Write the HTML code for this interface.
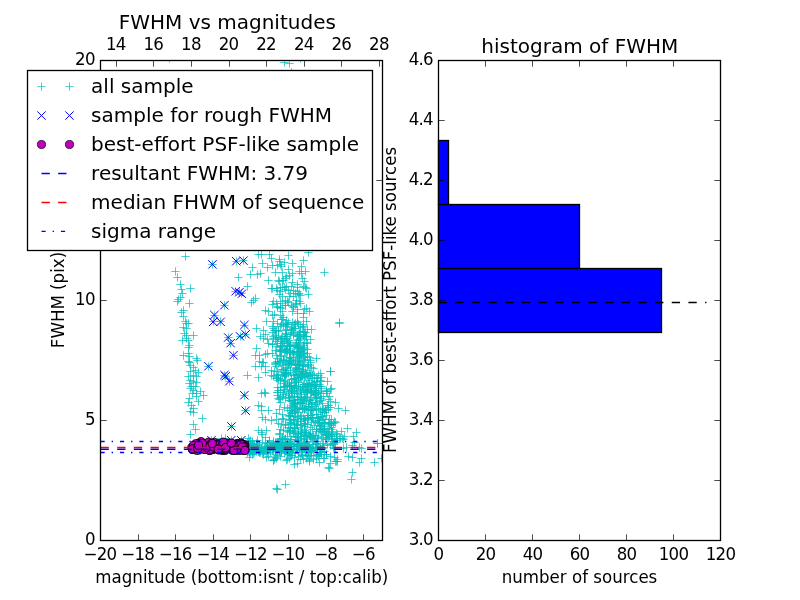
<!DOCTYPE html>
<html><head><meta charset="utf-8"><title>FWHM vs magnitudes</title>
<style>html,body{margin:0;padding:0;background:#fff;overflow:hidden}svg{display:block}</style></head>
<body>
<svg width="800" height="600" viewBox="0 0 800 600">
<rect width="800" height="600" fill="#fff"/>
<defs><clipPath id="cl"><rect x="100.5" y="60.5" width="282.0" height="480.0"/></clipPath></defs>
<g clip-path="url(#cl)">
<path d="M208.3 264.5h8.34M212.5 260.3v8.34M232.3 261.5h8.34M236.5 257.3v8.34M239.3 260.5h8.34M243.5 256.3v8.34M231.3 291.5h8.34M235.5 287.3v8.34M235.3 292.5h8.34M239.5 288.3v8.34M237.3 293.5h8.34M241.5 289.3v8.34M220.3 305.5h8.34M224.5 301.3v8.34M210.3 315.5h8.34M214.5 311.3v8.34M209.3 321.5h8.34M213.5 317.3v8.34M216.3 321.5h8.34M220.5 317.3v8.34M240.3 325.5h8.34M244.5 321.3v8.34M241.3 334.5h8.34M245.5 330.3v8.34M236.3 336.5h8.34M240.5 332.3v8.34M224.3 337.5h8.34M228.5 333.3v8.34M226.3 343.5h8.34M230.5 339.3v8.34M229.3 355.5h8.34M233.5 351.3v8.34M204.3 366.5h8.34M208.5 362.3v8.34M220.3 375.5h8.34M224.5 371.3v8.34M221.3 376.5h8.34M225.5 372.3v8.34M225.3 381.5h8.34M229.5 377.3v8.34M240.3 395.5h8.34M244.5 391.3v8.34M241.3 410.5h8.34M245.5 406.3v8.34M227.3 426.5h8.34M231.5 422.3v8.34M207.3 440.5h8.34M211.5 436.3v8.34M227.3 440.5h8.34M231.5 436.3v8.34M237.3 440.5h8.34M241.5 436.3v8.34M181.3 256.5h8.34M185.5 252.3v8.34M171.3 271.5h8.34M175.5 267.3v8.34M173.3 277.5h8.34M177.5 273.3v8.34M176.3 284.5h8.34M180.5 280.3v8.34M177.3 289.5h8.34M181.5 285.3v8.34M186.3 288.5h8.34M190.5 284.3v8.34M178.3 293.5h8.34M182.5 289.3v8.34M176.3 297.5h8.34M180.5 293.3v8.34M174.3 299.5h8.34M178.5 295.3v8.34M173.3 301.5h8.34M177.5 297.3v8.34M185.3 303.5h8.34M189.5 299.3v8.34M179.3 310.5h8.34M183.5 306.3v8.34M177.3 312.5h8.34M181.5 308.3v8.34M179.3 316.5h8.34M183.5 312.3v8.34M181.3 321.5h8.34M185.5 317.3v8.34M182.3 323.5h8.34M186.5 319.3v8.34M184.3 323.5h8.34M188.5 319.3v8.34M234.3 277.5h8.34M238.5 273.3v8.34M248.3 267.5h8.34M252.5 263.3v8.34M246.3 274.5h8.34M250.5 270.3v8.34M253.3 274.5h8.34M257.5 270.3v8.34M243.3 286.5h8.34M247.5 282.3v8.34M251.3 298.5h8.34M255.5 294.3v8.34M249.3 300.5h8.34M253.5 296.3v8.34M247.3 302.5h8.34M251.5 298.3v8.34M254.3 254.5h8.34M258.5 250.3v8.34M258.3 263.5h8.34M262.5 259.3v8.34M265.3 254.5h8.34M269.5 250.3v8.34M267.3 258.5h8.34M271.5 254.3v8.34M275.3 259.5h8.34M279.5 255.3v8.34M276.3 264.5h8.34M280.5 260.3v8.34M277.3 266.5h8.34M281.5 262.3v8.34M273.3 265.5h8.34M277.5 261.3v8.34M280.3 262.5h8.34M284.5 258.3v8.34M284.3 255.5h8.34M288.5 251.3v8.34M288.3 263.5h8.34M292.5 259.3v8.34M299.3 260.5h8.34M303.5 256.3v8.34M297.3 266.5h8.34M301.5 262.3v8.34M304.3 252.5h8.34M308.5 248.3v8.34M271.3 272.5h8.34M275.5 268.3v8.34M278.3 272.5h8.34M282.5 268.3v8.34M282.3 276.5h8.34M286.5 272.3v8.34M285.3 275.5h8.34M289.5 271.3v8.34M264.3 280.5h8.34M268.5 276.3v8.34M298.3 278.5h8.34M302.5 274.3v8.34M275.3 281.5h8.34M279.5 277.3v8.34M279.3 280.5h8.34M283.5 276.3v8.34M267.3 288.5h8.34M271.5 284.3v8.34M268.3 288.5h8.34M272.5 284.3v8.34M273.3 290.5h8.34M277.5 286.3v8.34M276.3 291.5h8.34M280.5 287.3v8.34M278.3 287.5h8.34M282.5 283.3v8.34M287.3 286.5h8.34M291.5 282.3v8.34M289.3 290.5h8.34M293.5 286.3v8.34M286.3 293.5h8.34M290.5 289.3v8.34M291.3 293.5h8.34M295.5 289.3v8.34M293.3 291.5h8.34M297.5 287.3v8.34M299.3 286.5h8.34M303.5 282.3v8.34M302.3 288.5h8.34M306.5 284.3v8.34M304.3 294.5h8.34M308.5 290.3v8.34M289.3 296.5h8.34M293.5 292.3v8.34M269.3 301.5h8.34M273.5 297.3v8.34M272.3 303.5h8.34M276.5 299.3v8.34M276.3 301.5h8.34M280.5 297.3v8.34M278.3 303.5h8.34M282.5 299.3v8.34M281.3 300.5h8.34M285.5 296.3v8.34M284.3 302.5h8.34M288.5 298.3v8.34M273.3 306.5h8.34M277.5 302.3v8.34M276.3 308.5h8.34M280.5 304.3v8.34M278.3 311.5h8.34M282.5 307.3v8.34M287.3 305.5h8.34M291.5 301.3v8.34M289.3 307.5h8.34M293.5 303.3v8.34M292.3 303.5h8.34M296.5 299.3v8.34M296.3 303.5h8.34M300.5 299.3v8.34M293.3 309.5h8.34M297.5 305.3v8.34M288.3 311.5h8.34M292.5 307.3v8.34M261.3 310.5h8.34M265.5 306.3v8.34M264.3 311.5h8.34M268.5 307.3v8.34M268.3 315.5h8.34M272.5 311.3v8.34M276.3 315.5h8.34M280.5 311.3v8.34M279.3 317.5h8.34M283.5 313.3v8.34M282.3 320.5h8.34M286.5 316.3v8.34M305.3 311.5h8.34M309.5 307.3v8.34M299.3 317.5h8.34M303.5 313.3v8.34M302.3 321.5h8.34M306.5 317.3v8.34M293.3 321.5h8.34M297.5 317.3v8.34M291.3 323.5h8.34M295.5 319.3v8.34M262.3 321.5h8.34M266.5 317.3v8.34M282.3 323.5h8.34M286.5 319.3v8.34M320.3 272.5h8.34M324.5 268.3v8.34M335.3 322.5h8.34M339.5 318.3v8.34M256.3 273.5h8.34M260.5 269.3v8.34M257.3 254.5h8.34M261.5 250.3v8.34M179.3 327.5h8.34M183.5 323.3v8.34M182.3 328.5h8.34M186.5 324.3v8.34M180.3 333.5h8.34M184.5 329.3v8.34M182.3 335.5h8.34M186.5 331.3v8.34M189.3 335.5h8.34M193.5 331.3v8.34M178.3 340.5h8.34M182.5 336.3v8.34M182.3 338.5h8.34M186.5 334.3v8.34M184.3 340.5h8.34M188.5 336.3v8.34M185.3 345.5h8.34M189.5 341.3v8.34M184.3 347.5h8.34M188.5 343.3v8.34M179.3 355.5h8.34M183.5 351.3v8.34M184.3 353.5h8.34M188.5 349.3v8.34M185.3 356.5h8.34M189.5 352.3v8.34M192.3 358.5h8.34M196.5 354.3v8.34M193.3 360.5h8.34M197.5 356.3v8.34M184.3 361.5h8.34M188.5 357.3v8.34M185.3 362.5h8.34M189.5 358.3v8.34M186.3 365.5h8.34M190.5 361.3v8.34M189.3 367.5h8.34M193.5 363.3v8.34M191.3 370.5h8.34M195.5 366.3v8.34M186.3 371.5h8.34M190.5 367.3v8.34M194.3 372.5h8.34M198.5 368.3v8.34M184.3 376.5h8.34M188.5 372.3v8.34M189.3 375.5h8.34M193.5 371.3v8.34M192.3 376.5h8.34M196.5 372.3v8.34M186.3 380.5h8.34M190.5 376.3v8.34M189.3 381.5h8.34M193.5 377.3v8.34M192.3 382.5h8.34M196.5 378.3v8.34M185.3 383.5h8.34M189.5 379.3v8.34M187.3 386.5h8.34M191.5 382.3v8.34M191.3 386.5h8.34M195.5 382.3v8.34M186.3 388.5h8.34M190.5 384.3v8.34M189.3 390.5h8.34M193.5 386.3v8.34M196.3 391.5h8.34M200.5 387.3v8.34M188.3 393.5h8.34M192.5 389.3v8.34M192.3 393.5h8.34M196.5 389.3v8.34M199.3 395.5h8.34M203.5 391.3v8.34M192.3 396.5h8.34M196.5 392.3v8.34M185.3 398.5h8.34M189.5 394.3v8.34M252.3 328.5h8.34M256.5 324.3v8.34M252.3 348.5h8.34M256.5 344.3v8.34M251.3 355.5h8.34M255.5 351.3v8.34M251.3 366.5h8.34M255.5 362.3v8.34M243.3 375.5h8.34M247.5 371.3v8.34M254.3 377.5h8.34M258.5 373.3v8.34M255.3 361.5h8.34M259.5 357.3v8.34M184.3 402.5h8.34M188.5 398.3v8.34M187.3 405.5h8.34M191.5 401.3v8.34M189.3 408.5h8.34M193.5 404.3v8.34M186.3 411.5h8.34M190.5 407.3v8.34M189.3 412.5h8.34M193.5 408.3v8.34M194.3 401.5h8.34M198.5 397.3v8.34M198.3 418.5h8.34M202.5 414.3v8.34M189.3 424.5h8.34M193.5 420.3v8.34M191.3 429.5h8.34M195.5 425.3v8.34M186.3 434.5h8.34M190.5 430.3v8.34M254.3 405.5h8.34M258.5 401.3v8.34M254.3 430.5h8.34M258.5 426.3v8.34M217.3 438.5h8.34M221.5 434.3v8.34M221.3 438.5h8.34M225.5 434.3v8.34M244.3 438.5h8.34M248.5 434.3v8.34M272.3 488.5h8.34M276.5 484.3v8.34M273.3 489.5h8.34M277.5 485.3v8.34M281.3 484.5h8.34M285.5 480.3v8.34M348.3 472.5h8.34M352.5 468.3v8.34M347.3 479.5h8.34M351.5 475.3v8.34M370.3 462.5h8.34M374.5 458.3v8.34M377.3 458.5h8.34M381.5 454.3v8.34M355.3 462.5h8.34M359.5 458.3v8.34M357.3 458.5h8.34M361.5 454.3v8.34M325.3 468.5h8.34M329.5 464.3v8.34M324.3 467.5h8.34M328.5 463.3v8.34M290.3 464.5h8.34M294.5 460.3v8.34M293.3 463.5h8.34M297.5 459.3v8.34M285.3 458.5h8.34M289.5 454.3v8.34M273.3 455.5h8.34M277.5 451.3v8.34M305.3 461.5h8.34M309.5 457.3v8.34M315.3 462.5h8.34M319.5 458.3v8.34M331.3 461.5h8.34M335.5 457.3v8.34M326.3 463.5h8.34M330.5 459.3v8.34M344.3 456.5h8.34M348.5 452.3v8.34M348.3 457.5h8.34M352.5 453.3v8.34M373.3 443.5h8.34M377.5 439.3v8.34M342.3 447.5h8.34M346.5 443.3v8.34M350.3 442.5h8.34M354.5 438.3v8.34M335.3 323.5h8.34M339.5 319.3v8.34M326.3 371.5h8.34M330.5 367.3v8.34M327.3 388.5h8.34M331.5 384.3v8.34M331.3 402.5h8.34M335.5 398.3v8.34M334.3 408.5h8.34M338.5 404.3v8.34M341.3 410.5h8.34M345.5 406.3v8.34M343.3 428.5h8.34M347.5 424.3v8.34M352.3 432.5h8.34M356.5 428.3v8.34M349.3 436.5h8.34M353.5 432.3v8.34M373.3 443.5h8.34M377.5 439.3v8.34M326.3 371.5h8.34M330.5 367.3v8.34M323.3 381.5h8.34M327.5 377.3v8.34M326.3 389.5h8.34M330.5 385.3v8.34M280.3 62.5h8.34M284.5 58.3v8.34M285.3 63.5h8.34M289.5 59.3v8.34M165.3 58.5h8.34M169.5 54.3v8.34M296.3 58.5h8.34M300.5 54.3v8.34M287.3 72.5h8.34M291.5 68.3v8.34M298.3 371.5h8.34M302.5 367.3v8.34M296.3 376.5h8.34M300.5 372.3v8.34M280.3 338.5h8.34M284.5 334.3v8.34M327.3 435.5h8.34M331.5 431.3v8.34M298.3 369.5h8.34M302.5 365.3v8.34M272.3 337.5h8.34M276.5 333.3v8.34M301.3 370.5h8.34M305.5 366.3v8.34M290.3 411.5h8.34M294.5 407.3v8.34M312.3 414.5h8.34M316.5 410.3v8.34M316.3 417.5h8.34M320.5 413.3v8.34M313.3 417.5h8.34M317.5 413.3v8.34M288.3 400.5h8.34M292.5 396.3v8.34M310.3 388.5h8.34M314.5 384.3v8.34M283.3 408.5h8.34M287.5 404.3v8.34M281.3 336.5h8.34M285.5 332.3v8.34M327.3 429.5h8.34M331.5 425.3v8.34M314.3 375.5h8.34M318.5 371.3v8.34M280.3 360.5h8.34M284.5 356.3v8.34M283.3 326.5h8.34M287.5 322.3v8.34M285.3 410.5h8.34M289.5 406.3v8.34M287.3 379.5h8.34M291.5 375.3v8.34M283.3 338.5h8.34M287.5 334.3v8.34M279.3 325.5h8.34M283.5 321.3v8.34M320.3 428.5h8.34M324.5 424.3v8.34M280.3 376.5h8.34M284.5 372.3v8.34M303.3 343.5h8.34M307.5 339.3v8.34M311.3 394.5h8.34M315.5 390.3v8.34M332.3 438.5h8.34M336.5 434.3v8.34M289.3 352.5h8.34M293.5 348.3v8.34M289.3 359.5h8.34M293.5 355.3v8.34M314.3 422.5h8.34M318.5 418.3v8.34M274.3 331.5h8.34M278.5 327.3v8.34M311.3 435.5h8.34M315.5 431.3v8.34M279.3 360.5h8.34M283.5 356.3v8.34M297.3 425.5h8.34M301.5 421.3v8.34M325.3 419.5h8.34M329.5 415.3v8.34M305.3 372.5h8.34M309.5 368.3v8.34M305.3 435.5h8.34M309.5 431.3v8.34M313.3 438.5h8.34M317.5 434.3v8.34M289.3 328.5h8.34M293.5 324.3v8.34M300.3 423.5h8.34M304.5 419.3v8.34M306.3 400.5h8.34M310.5 396.3v8.34M291.3 375.5h8.34M295.5 371.3v8.34M307.3 329.5h8.34M311.5 325.3v8.34M286.3 353.5h8.34M290.5 349.3v8.34M314.3 392.5h8.34M318.5 388.3v8.34M284.3 362.5h8.34M288.5 358.3v8.34M307.3 417.5h8.34M311.5 413.3v8.34M283.3 385.5h8.34M287.5 381.3v8.34M304.3 364.5h8.34M308.5 360.3v8.34M277.3 339.5h8.34M281.5 335.3v8.34M285.3 430.5h8.34M289.5 426.3v8.34M308.3 429.5h8.34M312.5 425.3v8.34M282.3 373.5h8.34M286.5 369.3v8.34M282.3 329.5h8.34M286.5 325.3v8.34M335.3 438.5h8.34M339.5 434.3v8.34M281.3 333.5h8.34M285.5 329.3v8.34M301.3 432.5h8.34M305.5 428.3v8.34M294.3 339.5h8.34M298.5 335.3v8.34M295.3 361.5h8.34M299.5 357.3v8.34M292.3 370.5h8.34M296.5 366.3v8.34M303.3 353.5h8.34M307.5 349.3v8.34M289.3 433.5h8.34M293.5 429.3v8.34M292.3 424.5h8.34M296.5 420.3v8.34M301.3 373.5h8.34M305.5 369.3v8.34M290.3 374.5h8.34M294.5 370.3v8.34M274.3 363.5h8.34M278.5 359.3v8.34M300.3 408.5h8.34M304.5 404.3v8.34M286.3 351.5h8.34M290.5 347.3v8.34M340.3 436.5h8.34M344.5 432.3v8.34M296.3 388.5h8.34M300.5 384.3v8.34M281.3 364.5h8.34M285.5 360.3v8.34M294.3 399.5h8.34M298.5 395.3v8.34M291.3 428.5h8.34M295.5 424.3v8.34M295.3 334.5h8.34M299.5 330.3v8.34M287.3 422.5h8.34M291.5 418.3v8.34M311.3 421.5h8.34M315.5 417.3v8.34M287.3 332.5h8.34M291.5 328.3v8.34M296.3 397.5h8.34M300.5 393.3v8.34M296.3 326.5h8.34M300.5 322.3v8.34M287.3 407.5h8.34M291.5 403.3v8.34M291.3 364.5h8.34M295.5 360.3v8.34M287.3 390.5h8.34M291.5 386.3v8.34M318.3 403.5h8.34M322.5 399.3v8.34M304.3 415.5h8.34M308.5 411.3v8.34M308.3 410.5h8.34M312.5 406.3v8.34M290.3 387.5h8.34M294.5 383.3v8.34M275.3 434.5h8.34M279.5 430.3v8.34M285.3 385.5h8.34M289.5 381.3v8.34M317.3 393.5h8.34M321.5 389.3v8.34M303.3 389.5h8.34M307.5 385.3v8.34M316.3 373.5h8.34M320.5 369.3v8.34M281.3 424.5h8.34M285.5 420.3v8.34M292.3 367.5h8.34M296.5 363.3v8.34M294.3 365.5h8.34M298.5 361.3v8.34M322.3 435.5h8.34M326.5 431.3v8.34M333.3 434.5h8.34M337.5 430.3v8.34M311.3 385.5h8.34M315.5 381.3v8.34M294.3 433.5h8.34M298.5 429.3v8.34M306.3 415.5h8.34M310.5 411.3v8.34M285.3 352.5h8.34M289.5 348.3v8.34M321.3 439.5h8.34M325.5 435.3v8.34M284.3 373.5h8.34M288.5 369.3v8.34M320.3 429.5h8.34M324.5 425.3v8.34M296.3 377.5h8.34M300.5 373.3v8.34M294.3 346.5h8.34M298.5 342.3v8.34M281.3 380.5h8.34M285.5 376.3v8.34M272.3 330.5h8.34M276.5 326.3v8.34M327.3 423.5h8.34M331.5 419.3v8.34M285.3 350.5h8.34M289.5 346.3v8.34M304.3 386.5h8.34M308.5 382.3v8.34M294.3 363.5h8.34M298.5 359.3v8.34M313.3 378.5h8.34M317.5 374.3v8.34M287.3 386.5h8.34M291.5 382.3v8.34M310.3 382.5h8.34M314.5 378.3v8.34M291.3 382.5h8.34M295.5 378.3v8.34M292.3 391.5h8.34M296.5 387.3v8.34M287.3 360.5h8.34M291.5 356.3v8.34M287.3 390.5h8.34M291.5 386.3v8.34M302.3 435.5h8.34M306.5 431.3v8.34M276.3 349.5h8.34M280.5 345.3v8.34M287.3 439.5h8.34M291.5 435.3v8.34M317.3 377.5h8.34M321.5 373.3v8.34M308.3 374.5h8.34M312.5 370.3v8.34M312.3 377.5h8.34M316.5 373.3v8.34M320.3 422.5h8.34M324.5 418.3v8.34M302.3 436.5h8.34M306.5 432.3v8.34M272.3 366.5h8.34M276.5 362.3v8.34M296.3 436.5h8.34M300.5 432.3v8.34M289.3 354.5h8.34M293.5 350.3v8.34M298.3 402.5h8.34M302.5 398.3v8.34M285.3 340.5h8.34M289.5 336.3v8.34M301.3 332.5h8.34M305.5 328.3v8.34M312.3 390.5h8.34M316.5 386.3v8.34M291.3 403.5h8.34M295.5 399.3v8.34M283.3 346.5h8.34M287.5 342.3v8.34M287.3 362.5h8.34M291.5 358.3v8.34M293.3 439.5h8.34M297.5 435.3v8.34M279.3 439.5h8.34M283.5 435.3v8.34M294.3 432.5h8.34M298.5 428.3v8.34M317.3 437.5h8.34M321.5 433.3v8.34M285.3 385.5h8.34M289.5 381.3v8.34M295.3 358.5h8.34M299.5 354.3v8.34M326.3 401.5h8.34M330.5 397.3v8.34M300.3 409.5h8.34M304.5 405.3v8.34M290.3 396.5h8.34M294.5 392.3v8.34M299.3 352.5h8.34M303.5 348.3v8.34M305.3 435.5h8.34M309.5 431.3v8.34M290.3 427.5h8.34M294.5 423.3v8.34M289.3 431.5h8.34M293.5 427.3v8.34M282.3 349.5h8.34M286.5 345.3v8.34M294.3 436.5h8.34M298.5 432.3v8.34M297.3 433.5h8.34M301.5 429.3v8.34M293.3 351.5h8.34M297.5 347.3v8.34M302.3 392.5h8.34M306.5 388.3v8.34M279.3 430.5h8.34M283.5 426.3v8.34M290.3 404.5h8.34M294.5 400.3v8.34M324.3 407.5h8.34M328.5 403.3v8.34M280.3 389.5h8.34M284.5 385.3v8.34M299.3 354.5h8.34M303.5 350.3v8.34M302.3 342.5h8.34M306.5 338.3v8.34M294.3 340.5h8.34M298.5 336.3v8.34M307.3 391.5h8.34M311.5 387.3v8.34M330.3 439.5h8.34M334.5 435.3v8.34M288.3 390.5h8.34M292.5 386.3v8.34M296.3 351.5h8.34M300.5 347.3v8.34M303.3 391.5h8.34M307.5 387.3v8.34M328.3 434.5h8.34M332.5 430.3v8.34M292.3 345.5h8.34M296.5 341.3v8.34M316.3 396.5h8.34M320.5 392.3v8.34M305.3 404.5h8.34M309.5 400.3v8.34M295.3 399.5h8.34M299.5 395.3v8.34M286.3 415.5h8.34M290.5 411.3v8.34M336.3 438.5h8.34M340.5 434.3v8.34M308.3 403.5h8.34M312.5 399.3v8.34M270.3 330.5h8.34M274.5 326.3v8.34M301.3 359.5h8.34M305.5 355.3v8.34M290.3 388.5h8.34M294.5 384.3v8.34M284.3 342.5h8.34M288.5 338.3v8.34M271.3 364.5h8.34M275.5 360.3v8.34M289.3 406.5h8.34M293.5 402.3v8.34M283.3 431.5h8.34M287.5 427.3v8.34M299.3 336.5h8.34M303.5 332.3v8.34M307.3 402.5h8.34M311.5 398.3v8.34M299.3 335.5h8.34M303.5 331.3v8.34M291.3 385.5h8.34M295.5 381.3v8.34M322.3 410.5h8.34M326.5 406.3v8.34M312.3 384.5h8.34M316.5 380.3v8.34M332.3 436.5h8.34M336.5 432.3v8.34M291.3 361.5h8.34M295.5 357.3v8.34M290.3 428.5h8.34M294.5 424.3v8.34M297.3 438.5h8.34M301.5 434.3v8.34M309.3 384.5h8.34M313.5 380.3v8.34M296.3 403.5h8.34M300.5 399.3v8.34M274.3 374.5h8.34M278.5 370.3v8.34M284.3 415.5h8.34M288.5 411.3v8.34M329.3 423.5h8.34M333.5 419.3v8.34M295.3 332.5h8.34M299.5 328.3v8.34M311.3 404.5h8.34M315.5 400.3v8.34M305.3 357.5h8.34M309.5 353.3v8.34M303.3 366.5h8.34M307.5 362.3v8.34M322.3 391.5h8.34M326.5 387.3v8.34M299.3 384.5h8.34M303.5 380.3v8.34M312.3 358.5h8.34M316.5 354.3v8.34M307.3 390.5h8.34M311.5 386.3v8.34M299.3 390.5h8.34M303.5 386.3v8.34M318.3 411.5h8.34M322.5 407.3v8.34M287.3 379.5h8.34M291.5 375.3v8.34M282.3 360.5h8.34M286.5 356.3v8.34M310.3 406.5h8.34M314.5 402.3v8.34M295.3 407.5h8.34M299.5 403.3v8.34M280.3 387.5h8.34M284.5 383.3v8.34M282.3 350.5h8.34M286.5 346.3v8.34M296.3 351.5h8.34M300.5 347.3v8.34M278.3 343.5h8.34M282.5 339.3v8.34M300.3 384.5h8.34M304.5 380.3v8.34M272.3 378.5h8.34M276.5 374.3v8.34M314.3 391.5h8.34M318.5 387.3v8.34M305.3 380.5h8.34M309.5 376.3v8.34M291.3 416.5h8.34M295.5 412.3v8.34M304.3 418.5h8.34M308.5 414.3v8.34M306.3 386.5h8.34M310.5 382.3v8.34M321.3 419.5h8.34M325.5 415.3v8.34M294.3 386.5h8.34M298.5 382.3v8.34M296.3 354.5h8.34M300.5 350.3v8.34M292.3 437.5h8.34M296.5 433.3v8.34M304.3 434.5h8.34M308.5 430.3v8.34M288.3 413.5h8.34M292.5 409.3v8.34M316.3 381.5h8.34M320.5 377.3v8.34M274.3 380.5h8.34M278.5 376.3v8.34M280.3 374.5h8.34M284.5 370.3v8.34M290.3 393.5h8.34M294.5 389.3v8.34M293.3 347.5h8.34M297.5 343.3v8.34M293.3 397.5h8.34M297.5 393.3v8.34M324.3 422.5h8.34M328.5 418.3v8.34M286.3 346.5h8.34M290.5 342.3v8.34M299.3 326.5h8.34M303.5 322.3v8.34M289.3 388.5h8.34M293.5 384.3v8.34M306.3 433.5h8.34M310.5 429.3v8.34M269.3 328.5h8.34M273.5 324.3v8.34M273.3 343.5h8.34M277.5 339.3v8.34M277.3 350.5h8.34M281.5 346.3v8.34M299.3 408.5h8.34M303.5 404.3v8.34M319.3 429.5h8.34M323.5 425.3v8.34M288.3 390.5h8.34M292.5 386.3v8.34M322.3 390.5h8.34M326.5 386.3v8.34M301.3 387.5h8.34M305.5 383.3v8.34M306.3 339.5h8.34M310.5 335.3v8.34M324.3 409.5h8.34M328.5 405.3v8.34M298.3 403.5h8.34M302.5 399.3v8.34M293.3 393.5h8.34M297.5 389.3v8.34M292.3 368.5h8.34M296.5 364.3v8.34M290.3 406.5h8.34M294.5 402.3v8.34M301.3 419.5h8.34M305.5 415.3v8.34M276.3 326.5h8.34M280.5 322.3v8.34M300.3 420.5h8.34M304.5 416.3v8.34M291.3 409.5h8.34M295.5 405.3v8.34M292.3 343.5h8.34M296.5 339.3v8.34M325.3 423.5h8.34M329.5 419.3v8.34M285.3 382.5h8.34M289.5 378.3v8.34M300.3 336.5h8.34M304.5 332.3v8.34M274.3 398.5h8.34M278.5 394.3v8.34M328.3 438.5h8.34M332.5 434.3v8.34M273.3 358.5h8.34M277.5 354.3v8.34M273.3 341.5h8.34M277.5 337.3v8.34M272.3 355.5h8.34M276.5 351.3v8.34M278.3 414.5h8.34M282.5 410.3v8.34M332.3 433.5h8.34M336.5 429.3v8.34M307.3 422.5h8.34M311.5 418.3v8.34M311.3 398.5h8.34M315.5 394.3v8.34M301.3 376.5h8.34M305.5 372.3v8.34M327.3 419.5h8.34M331.5 415.3v8.34M291.3 411.5h8.34M295.5 407.3v8.34M294.3 369.5h8.34M298.5 365.3v8.34M287.3 401.5h8.34M291.5 397.3v8.34M276.3 429.5h8.34M280.5 425.3v8.34M281.3 398.5h8.34M285.5 394.3v8.34M297.3 431.5h8.34M301.5 427.3v8.34M303.3 356.5h8.34M307.5 352.3v8.34M309.3 409.5h8.34M313.5 405.3v8.34M289.3 420.5h8.34M293.5 416.3v8.34M293.3 360.5h8.34M297.5 356.3v8.34M276.3 355.5h8.34M280.5 351.3v8.34M312.3 397.5h8.34M316.5 393.3v8.34M293.3 419.5h8.34M297.5 415.3v8.34M271.3 330.5h8.34M275.5 326.3v8.34M289.3 419.5h8.34M293.5 415.3v8.34M291.3 436.5h8.34M295.5 432.3v8.34M280.3 386.5h8.34M284.5 382.3v8.34M291.3 436.5h8.34M295.5 432.3v8.34M312.3 408.5h8.34M316.5 404.3v8.34M280.3 439.5h8.34M284.5 435.3v8.34M277.3 424.5h8.34M281.5 420.3v8.34M278.3 438.5h8.34M282.5 434.3v8.34M300.3 409.5h8.34M304.5 405.3v8.34M294.3 346.5h8.34M298.5 342.3v8.34M275.3 409.5h8.34M279.5 405.3v8.34M324.3 433.5h8.34M328.5 429.3v8.34M320.3 423.5h8.34M324.5 419.3v8.34M302.3 336.5h8.34M306.5 332.3v8.34M295.3 364.5h8.34M299.5 360.3v8.34M286.3 372.5h8.34M290.5 368.3v8.34M285.3 345.5h8.34M289.5 341.3v8.34M299.3 356.5h8.34M303.5 352.3v8.34M288.3 430.5h8.34M292.5 426.3v8.34M303.3 329.5h8.34M307.5 325.3v8.34M312.3 431.5h8.34M316.5 427.3v8.34M308.3 418.5h8.34M312.5 414.3v8.34M278.3 365.5h8.34M282.5 361.3v8.34M293.3 399.5h8.34M297.5 395.3v8.34M274.3 390.5h8.34M278.5 386.3v8.34M284.3 364.5h8.34M288.5 360.3v8.34M294.3 377.5h8.34M298.5 373.3v8.34M320.3 412.5h8.34M324.5 408.3v8.34M308.3 378.5h8.34M312.5 374.3v8.34M311.3 394.5h8.34M315.5 390.3v8.34M276.3 362.5h8.34M280.5 358.3v8.34M323.3 393.5h8.34M327.5 389.3v8.34M311.3 390.5h8.34M315.5 386.3v8.34M300.3 348.5h8.34M304.5 344.3v8.34M290.3 416.5h8.34M294.5 412.3v8.34M284.3 393.5h8.34M288.5 389.3v8.34M285.3 361.5h8.34M289.5 357.3v8.34M290.3 433.5h8.34M294.5 429.3v8.34M279.3 394.5h8.34M283.5 390.3v8.34M294.3 348.5h8.34M298.5 344.3v8.34M302.3 409.5h8.34M306.5 405.3v8.34M304.3 383.5h8.34M308.5 379.3v8.34M309.3 435.5h8.34M313.5 431.3v8.34M281.3 349.5h8.34M285.5 345.3v8.34M283.3 367.5h8.34M287.5 363.3v8.34M313.3 402.5h8.34M317.5 398.3v8.34M298.3 386.5h8.34M302.5 382.3v8.34M285.3 361.5h8.34M289.5 357.3v8.34M290.3 328.5h8.34M294.5 324.3v8.34M296.3 390.5h8.34M300.5 386.3v8.34M275.3 351.5h8.34M279.5 347.3v8.34M307.3 378.5h8.34M311.5 374.3v8.34M293.3 436.5h8.34M297.5 432.3v8.34M310.3 425.5h8.34M314.5 421.3v8.34M293.3 417.5h8.34M297.5 413.3v8.34M295.3 347.5h8.34M299.5 343.3v8.34M300.3 398.5h8.34M304.5 394.3v8.34M307.3 386.5h8.34M311.5 382.3v8.34M290.3 378.5h8.34M294.5 374.3v8.34M279.3 369.5h8.34M283.5 365.3v8.34M285.3 432.5h8.34M289.5 428.3v8.34M286.3 357.5h8.34M290.5 353.3v8.34M318.3 432.5h8.34M322.5 428.3v8.34M294.3 379.5h8.34M298.5 375.3v8.34M307.3 409.5h8.34M311.5 405.3v8.34M303.3 397.5h8.34M307.5 393.3v8.34M309.3 439.5h8.34M313.5 435.3v8.34M290.3 423.5h8.34M294.5 419.3v8.34M312.3 429.5h8.34M316.5 425.3v8.34M282.3 391.5h8.34M286.5 387.3v8.34M278.3 375.5h8.34M282.5 371.3v8.34M305.3 400.5h8.34M309.5 396.3v8.34M298.3 364.5h8.34M302.5 360.3v8.34M276.3 351.5h8.34M280.5 347.3v8.34M276.3 402.5h8.34M280.5 398.3v8.34M297.3 375.5h8.34M301.5 371.3v8.34M297.3 399.5h8.34M301.5 395.3v8.34M312.3 429.5h8.34M316.5 425.3v8.34M271.3 362.5h8.34M275.5 358.3v8.34M295.3 369.5h8.34M299.5 365.3v8.34M296.3 362.5h8.34M300.5 358.3v8.34M316.3 428.5h8.34M320.5 424.3v8.34M289.3 375.5h8.34M293.5 371.3v8.34M291.3 345.5h8.34M295.5 341.3v8.34M286.3 346.5h8.34M290.5 342.3v8.34M300.3 332.5h8.34M304.5 328.3v8.34M292.3 342.5h8.34M296.5 338.3v8.34M303.3 424.5h8.34M307.5 420.3v8.34M293.3 357.5h8.34M297.5 353.3v8.34M284.3 364.5h8.34M288.5 360.3v8.34M286.3 428.5h8.34M290.5 424.3v8.34M296.3 418.5h8.34M300.5 414.3v8.34M276.3 379.5h8.34M280.5 375.3v8.34M301.3 397.5h8.34M305.5 393.3v8.34M279.3 370.5h8.34M283.5 366.3v8.34M316.3 380.5h8.34M320.5 376.3v8.34M296.3 331.5h8.34M300.5 327.3v8.34M304.3 407.5h8.34M308.5 403.3v8.34M277.3 345.5h8.34M281.5 341.3v8.34M274.3 378.5h8.34M278.5 374.3v8.34M318.3 424.5h8.34M322.5 420.3v8.34M321.3 409.5h8.34M325.5 405.3v8.34M320.3 426.5h8.34M324.5 422.3v8.34M285.3 420.5h8.34M289.5 416.3v8.34M285.3 416.5h8.34M289.5 412.3v8.34M306.3 410.5h8.34M310.5 406.3v8.34M293.3 336.5h8.34M297.5 332.3v8.34M299.3 347.5h8.34M303.5 343.3v8.34M324.3 437.5h8.34M328.5 433.3v8.34M296.3 375.5h8.34M300.5 371.3v8.34M318.3 412.5h8.34M322.5 408.3v8.34M303.3 385.5h8.34M307.5 381.3v8.34M299.3 372.5h8.34M303.5 368.3v8.34M316.3 386.5h8.34M320.5 382.3v8.34M281.3 375.5h8.34M285.5 371.3v8.34M286.3 345.5h8.34M290.5 341.3v8.34M269.3 338.5h8.34M273.5 334.3v8.34M284.3 397.5h8.34M288.5 393.3v8.34M273.3 395.5h8.34M277.5 391.3v8.34M324.3 434.5h8.34M328.5 430.3v8.34M299.3 331.5h8.34M303.5 327.3v8.34M323.3 405.5h8.34M327.5 401.3v8.34M326.3 424.5h8.34M330.5 420.3v8.34M292.3 371.5h8.34M296.5 367.3v8.34M273.3 361.5h8.34M277.5 357.3v8.34M320.3 412.5h8.34M324.5 408.3v8.34M297.3 351.5h8.34M301.5 347.3v8.34M288.3 352.5h8.34M292.5 348.3v8.34M272.3 413.5h8.34M276.5 409.3v8.34M287.3 383.5h8.34M291.5 379.3v8.34M281.3 373.5h8.34M285.5 369.3v8.34M281.3 352.5h8.34M285.5 348.3v8.34M277.3 356.5h8.34M281.5 352.3v8.34M317.3 431.5h8.34M321.5 427.3v8.34M295.3 368.5h8.34M299.5 364.3v8.34M309.3 368.5h8.34M313.5 364.3v8.34M293.3 409.5h8.34M297.5 405.3v8.34M293.3 399.5h8.34M297.5 395.3v8.34M278.3 345.5h8.34M282.5 341.3v8.34M293.3 427.5h8.34M297.5 423.3v8.34M296.3 389.5h8.34M300.5 385.3v8.34M303.3 392.5h8.34M307.5 388.3v8.34M315.3 384.5h8.34M319.5 380.3v8.34M287.3 413.5h8.34M291.5 409.3v8.34M327.3 436.5h8.34M331.5 432.3v8.34M302.3 336.5h8.34M306.5 332.3v8.34M286.3 358.5h8.34M290.5 354.3v8.34M291.3 403.5h8.34M295.5 399.3v8.34M321.3 409.5h8.34M325.5 405.3v8.34M300.3 343.5h8.34M304.5 339.3v8.34M293.3 408.5h8.34M297.5 404.3v8.34M293.3 399.5h8.34M297.5 395.3v8.34M307.3 367.5h8.34M311.5 363.3v8.34M310.3 395.5h8.34M314.5 391.3v8.34M322.3 391.5h8.34M326.5 387.3v8.34M313.3 422.5h8.34M317.5 418.3v8.34M296.3 425.5h8.34M300.5 421.3v8.34M281.3 372.5h8.34M285.5 368.3v8.34M283.3 352.5h8.34M287.5 348.3v8.34M272.3 375.5h8.34M276.5 371.3v8.34M282.3 334.5h8.34M286.5 330.3v8.34M287.3 391.5h8.34M291.5 387.3v8.34M277.3 439.5h8.34M281.5 435.3v8.34M314.3 418.5h8.34M318.5 414.3v8.34M315.3 420.5h8.34M319.5 416.3v8.34M308.3 417.5h8.34M312.5 413.3v8.34M300.3 396.5h8.34M304.5 392.3v8.34M319.3 438.5h8.34M323.5 434.3v8.34M298.3 374.5h8.34M302.5 370.3v8.34M277.3 338.5h8.34M281.5 334.3v8.34M296.3 434.5h8.34M300.5 430.3v8.34M295.3 354.5h8.34M299.5 350.3v8.34M302.3 383.5h8.34M306.5 379.3v8.34M274.3 330.5h8.34M278.5 326.3v8.34M276.3 380.5h8.34M280.5 376.3v8.34M294.3 356.5h8.34M298.5 352.3v8.34M286.3 422.5h8.34M290.5 418.3v8.34M288.3 405.5h8.34M292.5 401.3v8.34M298.3 409.5h8.34M302.5 405.3v8.34M290.3 404.5h8.34M294.5 400.3v8.34M273.3 387.5h8.34M277.5 383.3v8.34M295.3 336.5h8.34M299.5 332.3v8.34M290.3 351.5h8.34M294.5 347.3v8.34M294.3 382.5h8.34M298.5 378.3v8.34M302.3 401.5h8.34M306.5 397.3v8.34M303.3 417.5h8.34M307.5 413.3v8.34M317.3 386.5h8.34M321.5 382.3v8.34M326.3 407.5h8.34M330.5 403.3v8.34M290.3 396.5h8.34M294.5 392.3v8.34M292.3 353.5h8.34M296.5 349.3v8.34M296.3 421.5h8.34M300.5 417.3v8.34M284.3 427.5h8.34M288.5 423.3v8.34M323.3 434.5h8.34M327.5 430.3v8.34M279.3 383.5h8.34M283.5 379.3v8.34M282.3 368.5h8.34M286.5 364.3v8.34M304.3 365.5h8.34M308.5 361.3v8.34M304.3 389.5h8.34M308.5 385.3v8.34M298.3 429.5h8.34M302.5 425.3v8.34M306.3 427.5h8.34M310.5 423.3v8.34M279.3 341.5h8.34M283.5 337.3v8.34M276.3 438.5h8.34M280.5 434.3v8.34M289.3 333.5h8.34M293.5 329.3v8.34M288.3 330.5h8.34M292.5 326.3v8.34M286.3 410.5h8.34M290.5 406.3v8.34M298.3 375.5h8.34M302.5 371.3v8.34M308.3 437.5h8.34M312.5 433.3v8.34M286.3 334.5h8.34M290.5 330.3v8.34M291.3 328.5h8.34M295.5 324.3v8.34M316.3 410.5h8.34M320.5 406.3v8.34M307.3 437.5h8.34M311.5 433.3v8.34M275.3 439.5h8.34M279.5 435.3v8.34M275.3 361.5h8.34M279.5 357.3v8.34M286.3 431.5h8.34M290.5 427.3v8.34M325.3 396.5h8.34M329.5 392.3v8.34M300.3 426.5h8.34M304.5 422.3v8.34M300.3 377.5h8.34M304.5 373.3v8.34M292.3 409.5h8.34M296.5 405.3v8.34M291.3 402.5h8.34M295.5 398.3v8.34M311.3 393.5h8.34M315.5 389.3v8.34M311.3 394.5h8.34M315.5 390.3v8.34M285.3 386.5h8.34M289.5 382.3v8.34M294.3 334.5h8.34M298.5 330.3v8.34M283.3 343.5h8.34M287.5 339.3v8.34M280.3 341.5h8.34M284.5 337.3v8.34M317.3 388.5h8.34M321.5 384.3v8.34M298.3 376.5h8.34M302.5 372.3v8.34M273.3 378.5h8.34M277.5 374.3v8.34M299.3 353.5h8.34M303.5 349.3v8.34M286.3 424.5h8.34M290.5 420.3v8.34M297.3 403.5h8.34M301.5 399.3v8.34M288.3 412.5h8.34M292.5 408.3v8.34M293.3 374.5h8.34M297.5 370.3v8.34M279.3 372.5h8.34M283.5 368.3v8.34M276.3 390.5h8.34M280.5 386.3v8.34M301.3 424.5h8.34M305.5 420.3v8.34M315.3 423.5h8.34M319.5 419.3v8.34M314.3 409.5h8.34M318.5 405.3v8.34M331.3 422.5h8.34M335.5 418.3v8.34M294.3 412.5h8.34M298.5 408.3v8.34M324.3 399.5h8.34M328.5 395.3v8.34M291.3 365.5h8.34M295.5 361.3v8.34M319.3 396.5h8.34M323.5 392.3v8.34M327.3 427.5h8.34M331.5 423.3v8.34M289.3 335.5h8.34M293.5 331.3v8.34M306.3 399.5h8.34M310.5 395.3v8.34M278.3 396.5h8.34M282.5 392.3v8.34M285.3 397.5h8.34M289.5 393.3v8.34M299.3 400.5h8.34M303.5 396.3v8.34M301.3 336.5h8.34M305.5 332.3v8.34M282.3 339.5h8.34M286.5 335.3v8.34M318.3 408.5h8.34M322.5 404.3v8.34M298.3 349.5h8.34M302.5 345.3v8.34M287.3 363.5h8.34M291.5 359.3v8.34M299.3 350.5h8.34M303.5 346.3v8.34M297.3 378.5h8.34M301.5 374.3v8.34M298.3 387.5h8.34M302.5 383.3v8.34M286.3 423.5h8.34M290.5 419.3v8.34M302.3 374.5h8.34M306.5 370.3v8.34M315.3 401.5h8.34M319.5 397.3v8.34M316.3 430.5h8.34M320.5 426.3v8.34M280.3 407.5h8.34M284.5 403.3v8.34M296.3 415.5h8.34M300.5 411.3v8.34M276.3 397.5h8.34M280.5 393.3v8.34M286.3 386.5h8.34M290.5 382.3v8.34M293.3 347.5h8.34M297.5 343.3v8.34M282.3 352.5h8.34M286.5 348.3v8.34M325.3 428.5h8.34M329.5 424.3v8.34M299.3 345.5h8.34M303.5 341.3v8.34M293.3 352.5h8.34M297.5 348.3v8.34M292.3 380.5h8.34M296.5 376.3v8.34M302.3 391.5h8.34M306.5 387.3v8.34M318.3 416.5h8.34M322.5 412.3v8.34M309.3 392.5h8.34M313.5 388.3v8.34M300.3 360.5h8.34M304.5 356.3v8.34M278.3 438.5h8.34M282.5 434.3v8.34M306.3 373.5h8.34M310.5 369.3v8.34M306.3 362.5h8.34M310.5 358.3v8.34M283.3 348.5h8.34M287.5 344.3v8.34M322.3 439.5h8.34M326.5 435.3v8.34M328.3 431.5h8.34M332.5 427.3v8.34M327.3 425.5h8.34M331.5 421.3v8.34M301.3 408.5h8.34M305.5 404.3v8.34M286.3 400.5h8.34M290.5 396.3v8.34M292.3 368.5h8.34M296.5 364.3v8.34M281.3 386.5h8.34M285.5 382.3v8.34M319.3 419.5h8.34M323.5 415.3v8.34M304.3 406.5h8.34M308.5 402.3v8.34M294.3 344.5h8.34M298.5 340.3v8.34M310.3 375.5h8.34M314.5 371.3v8.34M293.3 365.5h8.34M297.5 361.3v8.34M285.3 346.5h8.34M289.5 342.3v8.34M315.3 429.5h8.34M319.5 425.3v8.34M322.3 435.5h8.34M326.5 431.3v8.34M280.3 351.5h8.34M284.5 347.3v8.34M285.3 363.5h8.34M289.5 359.3v8.34M312.3 392.5h8.34M316.5 388.3v8.34M305.3 385.5h8.34M309.5 381.3v8.34M319.3 409.5h8.34M323.5 405.3v8.34M293.3 409.5h8.34M297.5 405.3v8.34M312.3 414.5h8.34M316.5 410.3v8.34M275.3 399.5h8.34M279.5 395.3v8.34M299.3 366.5h8.34M303.5 362.3v8.34M306.3 437.5h8.34M310.5 433.3v8.34M325.3 436.5h8.34M329.5 432.3v8.34M316.3 398.5h8.34M320.5 394.3v8.34M297.3 392.5h8.34M301.5 388.3v8.34M314.3 436.5h8.34M318.5 432.3v8.34M283.3 384.5h8.34M287.5 380.3v8.34M283.3 436.5h8.34M287.5 432.3v8.34M286.3 419.5h8.34M290.5 415.3v8.34M312.3 397.5h8.34M316.5 393.3v8.34M302.3 432.5h8.34M306.5 428.3v8.34M278.3 418.5h8.34M282.5 414.3v8.34M323.3 434.5h8.34M327.5 430.3v8.34M317.3 416.5h8.34M321.5 412.3v8.34M300.3 436.5h8.34M304.5 432.3v8.34M322.3 434.5h8.34M326.5 430.3v8.34M282.3 374.5h8.34M286.5 370.3v8.34M298.3 408.5h8.34M302.5 404.3v8.34M316.3 426.5h8.34M320.5 422.3v8.34M299.3 365.5h8.34M303.5 361.3v8.34M306.3 391.5h8.34M310.5 387.3v8.34M304.3 406.5h8.34M308.5 402.3v8.34M296.3 338.5h8.34M300.5 334.3v8.34M279.3 359.5h8.34M283.5 355.3v8.34M271.3 339.5h8.34M275.5 335.3v8.34M293.3 336.5h8.34M297.5 332.3v8.34M297.3 373.5h8.34M301.5 369.3v8.34M300.3 357.5h8.34M304.5 353.3v8.34M279.3 419.5h8.34M283.5 415.3v8.34M312.3 404.5h8.34M316.5 400.3v8.34M289.3 400.5h8.34M293.5 396.3v8.34M303.3 386.5h8.34M307.5 382.3v8.34M295.3 355.5h8.34M299.5 351.3v8.34M288.3 392.5h8.34M292.5 388.3v8.34M286.3 364.5h8.34M290.5 360.3v8.34M296.3 337.5h8.34M300.5 333.3v8.34M303.3 375.5h8.34M307.5 371.3v8.34M306.3 375.5h8.34M310.5 371.3v8.34M303.3 419.5h8.34M307.5 415.3v8.34M276.3 347.5h8.34M280.5 343.3v8.34M271.3 363.5h8.34M275.5 359.3v8.34M310.3 438.5h8.34M314.5 434.3v8.34M281.3 425.5h8.34M285.5 421.3v8.34M276.3 387.5h8.34M280.5 383.3v8.34M297.3 371.5h8.34M301.5 367.3v8.34M285.3 357.5h8.34M289.5 353.3v8.34M285.3 400.5h8.34M289.5 396.3v8.34M324.3 405.5h8.34M328.5 401.3v8.34M282.3 336.5h8.34M286.5 332.3v8.34M295.3 361.5h8.34M299.5 357.3v8.34M321.3 431.5h8.34M325.5 427.3v8.34M279.3 360.5h8.34M283.5 356.3v8.34M303.3 415.5h8.34M307.5 411.3v8.34M322.3 433.5h8.34M326.5 429.3v8.34M287.3 329.5h8.34M291.5 325.3v8.34M286.3 344.5h8.34M290.5 340.3v8.34M300.3 423.5h8.34M304.5 419.3v8.34M276.3 339.5h8.34M280.5 335.3v8.34M298.3 327.5h8.34M302.5 323.3v8.34M307.3 406.5h8.34M311.5 402.3v8.34M285.3 395.5h8.34M289.5 391.3v8.34M292.3 425.5h8.34M296.5 421.3v8.34M303.3 349.5h8.34M307.5 345.3v8.34M307.3 410.5h8.34M311.5 406.3v8.34M296.3 402.5h8.34M300.5 398.3v8.34M337.3 431.5h8.34M341.5 427.3v8.34M317.3 425.5h8.34M321.5 421.3v8.34M308.3 384.5h8.34M312.5 380.3v8.34M273.3 371.5h8.34M277.5 367.3v8.34M297.3 416.5h8.34M301.5 412.3v8.34M306.3 360.5h8.34M310.5 356.3v8.34M299.3 418.5h8.34M303.5 414.3v8.34M297.3 394.5h8.34M301.5 390.3v8.34M292.3 381.5h8.34M296.5 377.3v8.34M286.3 439.5h8.34M290.5 435.3v8.34M306.3 415.5h8.34M310.5 411.3v8.34M291.3 364.5h8.34M295.5 360.3v8.34M277.3 369.5h8.34M281.5 365.3v8.34M301.3 390.5h8.34M305.5 386.3v8.34M291.3 369.5h8.34M295.5 365.3v8.34M295.3 342.5h8.34M299.5 338.3v8.34M287.3 327.5h8.34M291.5 323.3v8.34M317.3 400.5h8.34M321.5 396.3v8.34M299.3 438.5h8.34M303.5 434.3v8.34M274.3 337.5h8.34M278.5 333.3v8.34M304.3 376.5h8.34M308.5 372.3v8.34M309.3 420.5h8.34M313.5 416.3v8.34M290.3 378.5h8.34M294.5 374.3v8.34M293.3 335.5h8.34M297.5 331.3v8.34M292.3 386.5h8.34M296.5 382.3v8.34M310.3 384.5h8.34M314.5 380.3v8.34M322.3 415.5h8.34M326.5 411.3v8.34M307.3 393.5h8.34M311.5 389.3v8.34M328.3 432.5h8.34M332.5 428.3v8.34M286.3 370.5h8.34M290.5 366.3v8.34M338.3 438.5h8.34M342.5 434.3v8.34M273.3 392.5h8.34M277.5 388.3v8.34M286.3 360.5h8.34M290.5 356.3v8.34M294.3 421.5h8.34M298.5 417.3v8.34M297.3 355.5h8.34M301.5 351.3v8.34M301.3 435.5h8.34M305.5 431.3v8.34M293.3 424.5h8.34M297.5 420.3v8.34M306.3 436.5h8.34M310.5 432.3v8.34M281.3 330.5h8.34M285.5 326.3v8.34M311.3 386.5h8.34M315.5 382.3v8.34M276.3 346.5h8.34M280.5 342.3v8.34M278.3 336.5h8.34M282.5 332.3v8.34M313.3 381.5h8.34M317.5 377.3v8.34M280.3 381.5h8.34M284.5 377.3v8.34M294.3 436.5h8.34M298.5 432.3v8.34M279.3 392.5h8.34M283.5 388.3v8.34M330.3 421.5h8.34M334.5 417.3v8.34M300.3 430.5h8.34M304.5 426.3v8.34M277.3 319.5h8.34M281.5 315.3v8.34M302.3 308.5h8.34M306.5 304.3v8.34M296.3 295.5h8.34M300.5 291.3v8.34M280.3 287.5h8.34M284.5 283.3v8.34M281.3 278.5h8.34M285.5 274.3v8.34M281.3 289.5h8.34M285.5 285.3v8.34M277.3 324.5h8.34M281.5 320.3v8.34M283.3 301.5h8.34M287.5 297.3v8.34M273.3 307.5h8.34M277.5 303.3v8.34M288.3 273.5h8.34M292.5 269.3v8.34M295.3 293.5h8.34M299.5 289.3v8.34M292.3 300.5h8.34M296.5 296.3v8.34M290.3 324.5h8.34M294.5 320.3v8.34M281.3 324.5h8.34M285.5 320.3v8.34M301.3 271.5h8.34M305.5 267.3v8.34M281.3 305.5h8.34M285.5 301.3v8.34M283.3 324.5h8.34M287.5 320.3v8.34M275.3 294.5h8.34M279.5 290.3v8.34M276.3 307.5h8.34M280.5 303.3v8.34M284.3 322.5h8.34M288.5 318.3v8.34M282.3 286.5h8.34M286.5 282.3v8.34M276.3 287.5h8.34M280.5 283.3v8.34M288.3 322.5h8.34M292.5 318.3v8.34M278.3 319.5h8.34M282.5 315.3v8.34M294.3 324.5h8.34M298.5 320.3v8.34M294.3 294.5h8.34M298.5 290.3v8.34M285.3 296.5h8.34M289.5 292.3v8.34M293.3 284.5h8.34M297.5 280.3v8.34M299.3 324.5h8.34M303.5 320.3v8.34M293.3 322.5h8.34M297.5 318.3v8.34M281.3 305.5h8.34M285.5 301.3v8.34M273.3 323.5h8.34M277.5 319.3v8.34M278.3 296.5h8.34M282.5 292.3v8.34M272.3 288.5h8.34M276.5 284.3v8.34M257.3 393.5h8.34M261.5 389.3v8.34M267.3 375.5h8.34M271.5 371.3v8.34M255.3 355.5h8.34M259.5 351.3v8.34M275.3 433.5h8.34M279.5 429.3v8.34M263.3 339.5h8.34M267.5 335.3v8.34M261.3 393.5h8.34M265.5 389.3v8.34M268.3 332.5h8.34M272.5 328.3v8.34M264.3 410.5h8.34M268.5 406.3v8.34M261.3 334.5h8.34M265.5 330.3v8.34M271.3 335.5h8.34M275.5 331.3v8.34M259.3 330.5h8.34M263.5 326.3v8.34M257.3 410.5h8.34M261.5 406.3v8.34M256.3 336.5h8.34M260.5 332.3v8.34M264.3 343.5h8.34M268.5 339.3v8.34M258.3 417.5h8.34M262.5 413.3v8.34M268.3 344.5h8.34M272.5 340.3v8.34M261.3 372.5h8.34M265.5 368.3v8.34M259.3 338.5h8.34M263.5 334.3v8.34M257.3 432.5h8.34M261.5 428.3v8.34M268.3 353.5h8.34M272.5 349.3v8.34M274.3 423.5h8.34M278.5 419.3v8.34M273.3 377.5h8.34M277.5 373.3v8.34M260.3 392.5h8.34M264.5 388.3v8.34M269.3 376.5h8.34M273.5 372.3v8.34M257.3 406.5h8.34M261.5 402.3v8.34M272.3 346.5h8.34M276.5 342.3v8.34M269.3 336.5h8.34M273.5 332.3v8.34M259.3 362.5h8.34M263.5 358.3v8.34M263.3 353.5h8.34M267.5 349.3v8.34M258.3 434.5h8.34M262.5 430.3v8.34M261.3 419.5h8.34M265.5 415.3v8.34M268.3 344.5h8.34M272.5 340.3v8.34M258.3 362.5h8.34M262.5 358.3v8.34M270.3 371.5h8.34M274.5 367.3v8.34M267.3 420.5h8.34M271.5 416.3v8.34M268.3 326.5h8.34M272.5 322.3v8.34M273.3 392.5h8.34M277.5 388.3v8.34M262.3 430.5h8.34M266.5 426.3v8.34M272.3 419.5h8.34M276.5 415.3v8.34M261.3 354.5h8.34M265.5 350.3v8.34M261.3 366.5h8.34M265.5 362.3v8.34M257.3 366.5h8.34M261.5 362.3v8.34M271.3 350.5h8.34M275.5 346.3v8.34M267.3 370.5h8.34M271.5 366.3v8.34M278.3 447.5h8.34M282.5 443.3v8.34M263.3 453.5h8.34M267.5 449.3v8.34M301.3 452.5h8.34M305.5 448.3v8.34M248.3 441.5h8.34M252.5 437.3v8.34M246.3 449.5h8.34M250.5 445.3v8.34M313.3 441.5h8.34M317.5 437.3v8.34M287.3 455.5h8.34M291.5 451.3v8.34M257.3 449.5h8.34M261.5 445.3v8.34M281.3 439.5h8.34M285.5 435.3v8.34M298.3 449.5h8.34M302.5 445.3v8.34M309.3 450.5h8.34M313.5 446.3v8.34M276.3 443.5h8.34M280.5 439.3v8.34M302.3 441.5h8.34M306.5 437.3v8.34M312.3 455.5h8.34M316.5 451.3v8.34M244.3 447.5h8.34M248.5 443.3v8.34M248.3 443.5h8.34M252.5 439.3v8.34M298.3 447.5h8.34M302.5 443.3v8.34M246.3 440.5h8.34M250.5 436.3v8.34M275.3 450.5h8.34M279.5 446.3v8.34M269.3 446.5h8.34M273.5 442.3v8.34M252.3 446.5h8.34M256.5 442.3v8.34M286.3 446.5h8.34M290.5 442.3v8.34M317.3 454.5h8.34M321.5 450.3v8.34M303.3 442.5h8.34M307.5 438.3v8.34M303.3 449.5h8.34M307.5 445.3v8.34M294.3 444.5h8.34M298.5 440.3v8.34M266.3 448.5h8.34M270.5 444.3v8.34M254.3 448.5h8.34M258.5 444.3v8.34M268.3 450.5h8.34M272.5 446.3v8.34M316.3 452.5h8.34M320.5 448.3v8.34M268.3 447.5h8.34M272.5 443.3v8.34M271.3 444.5h8.34M275.5 440.3v8.34M252.3 451.5h8.34M256.5 447.3v8.34M305.3 447.5h8.34M309.5 443.3v8.34M255.3 447.5h8.34M259.5 443.3v8.34M286.3 450.5h8.34M290.5 446.3v8.34M261.3 443.5h8.34M265.5 439.3v8.34M307.3 448.5h8.34M311.5 444.3v8.34M292.3 449.5h8.34M296.5 445.3v8.34M245.3 449.5h8.34M249.5 445.3v8.34M274.3 444.5h8.34M278.5 440.3v8.34M291.3 452.5h8.34M295.5 448.3v8.34M329.3 447.5h8.34M333.5 443.3v8.34M283.3 444.5h8.34M287.5 440.3v8.34M265.3 450.5h8.34M269.5 446.3v8.34M250.3 447.5h8.34M254.5 443.3v8.34M266.3 452.5h8.34M270.5 448.3v8.34M289.3 446.5h8.34M293.5 442.3v8.34M308.3 444.5h8.34M312.5 440.3v8.34M306.3 448.5h8.34M310.5 444.3v8.34M292.3 446.5h8.34M296.5 442.3v8.34M286.3 451.5h8.34M290.5 447.3v8.34M277.3 449.5h8.34M281.5 445.3v8.34M326.3 445.5h8.34M330.5 441.3v8.34M250.3 446.5h8.34M254.5 442.3v8.34M300.3 439.5h8.34M304.5 435.3v8.34M256.3 450.5h8.34M260.5 446.3v8.34M247.3 444.5h8.34M251.5 440.3v8.34M269.3 446.5h8.34M273.5 442.3v8.34M267.3 446.5h8.34M271.5 442.3v8.34M289.3 449.5h8.34M293.5 445.3v8.34M302.3 458.5h8.34M306.5 454.3v8.34M271.3 447.5h8.34M275.5 443.3v8.34M277.3 446.5h8.34M281.5 442.3v8.34M279.3 445.5h8.34M283.5 441.3v8.34M293.3 445.5h8.34M297.5 441.3v8.34M252.3 447.5h8.34M256.5 443.3v8.34M295.3 447.5h8.34M299.5 443.3v8.34M262.3 457.5h8.34M266.5 453.3v8.34M293.3 445.5h8.34M297.5 441.3v8.34M279.3 449.5h8.34M283.5 445.3v8.34M303.3 441.5h8.34M307.5 437.3v8.34M254.3 450.5h8.34M258.5 446.3v8.34M282.3 444.5h8.34M286.5 440.3v8.34M280.3 453.5h8.34M284.5 449.3v8.34M254.3 451.5h8.34M258.5 447.3v8.34M299.3 447.5h8.34M303.5 443.3v8.34M313.3 454.5h8.34M317.5 450.3v8.34M305.3 447.5h8.34M309.5 443.3v8.34M259.3 451.5h8.34M263.5 447.3v8.34M264.3 448.5h8.34M268.5 444.3v8.34M301.3 443.5h8.34M305.5 439.3v8.34M301.3 451.5h8.34M305.5 447.3v8.34M245.3 452.5h8.34M249.5 448.3v8.34M258.3 453.5h8.34M262.5 449.3v8.34M245.3 441.5h8.34M249.5 437.3v8.34M269.3 450.5h8.34M273.5 446.3v8.34M263.3 446.5h8.34M267.5 442.3v8.34M286.3 441.5h8.34M290.5 437.3v8.34M253.3 449.5h8.34M257.5 445.3v8.34M297.3 454.5h8.34M301.5 450.3v8.34M285.3 444.5h8.34M289.5 440.3v8.34M293.3 445.5h8.34M297.5 441.3v8.34M251.3 449.5h8.34M255.5 445.3v8.34M264.3 448.5h8.34M268.5 444.3v8.34M271.3 442.5h8.34M275.5 438.3v8.34M312.3 447.5h8.34M316.5 443.3v8.34M278.3 448.5h8.34M282.5 444.3v8.34M275.3 446.5h8.34M279.5 442.3v8.34M295.3 444.5h8.34M299.5 440.3v8.34M283.3 445.5h8.34M287.5 441.3v8.34M319.3 445.5h8.34M323.5 441.3v8.34M293.3 449.5h8.34M297.5 445.3v8.34M245.3 452.5h8.34M249.5 448.3v8.34M253.3 445.5h8.34M257.5 441.3v8.34M243.3 442.5h8.34M247.5 438.3v8.34M315.3 452.5h8.34M319.5 448.3v8.34M292.3 448.5h8.34M296.5 444.3v8.34M245.3 448.5h8.34M249.5 444.3v8.34M314.3 446.5h8.34M318.5 442.3v8.34M284.3 442.5h8.34M288.5 438.3v8.34M244.3 451.5h8.34M248.5 447.3v8.34M246.3 450.5h8.34M250.5 446.3v8.34M271.3 451.5h8.34M275.5 447.3v8.34M282.3 450.5h8.34M286.5 446.3v8.34M266.3 446.5h8.34M270.5 442.3v8.34M277.3 444.5h8.34M281.5 440.3v8.34M279.3 446.5h8.34M283.5 442.3v8.34M305.3 448.5h8.34M309.5 444.3v8.34M277.3 449.5h8.34M281.5 445.3v8.34M307.3 450.5h8.34M311.5 446.3v8.34M309.3 444.5h8.34M313.5 440.3v8.34M246.3 446.5h8.34M250.5 442.3v8.34M316.3 452.5h8.34M320.5 448.3v8.34M269.3 446.5h8.34M273.5 442.3v8.34M269.3 443.5h8.34M273.5 439.3v8.34M246.3 453.5h8.34M250.5 449.3v8.34M284.3 451.5h8.34M288.5 447.3v8.34M286.3 455.5h8.34M290.5 451.3v8.34M243.3 452.5h8.34M247.5 448.3v8.34M283.3 451.5h8.34M287.5 447.3v8.34M253.3 447.5h8.34M257.5 443.3v8.34M257.3 448.5h8.34M261.5 444.3v8.34M308.3 449.5h8.34M312.5 445.3v8.34M293.3 440.5h8.34M297.5 436.3v8.34M261.3 448.5h8.34M265.5 444.3v8.34M301.3 446.5h8.34M305.5 442.3v8.34M329.3 443.5h8.34M333.5 439.3v8.34M317.3 452.5h8.34M321.5 448.3v8.34M295.3 449.5h8.34M299.5 445.3v8.34M255.3 452.5h8.34M259.5 448.3v8.34M244.3 447.5h8.34M248.5 443.3v8.34M286.3 452.5h8.34M290.5 448.3v8.34M252.3 443.5h8.34M256.5 439.3v8.34M245.3 457.5h8.34M249.5 453.3v8.34M281.3 438.5h8.34M285.5 434.3v8.34M281.3 442.5h8.34M285.5 438.3v8.34M266.3 447.5h8.34M270.5 443.3v8.34M277.3 449.5h8.34M281.5 445.3v8.34M250.3 452.5h8.34M254.5 448.3v8.34M287.3 452.5h8.34M291.5 448.3v8.34M277.3 445.5h8.34M281.5 441.3v8.34M287.3 446.5h8.34M291.5 442.3v8.34M305.3 451.5h8.34M309.5 447.3v8.34M270.3 446.5h8.34M274.5 442.3v8.34M248.3 445.5h8.34M252.5 441.3v8.34M303.3 455.5h8.34M307.5 451.3v8.34M263.3 446.5h8.34M267.5 442.3v8.34M273.3 445.5h8.34M277.5 441.3v8.34M260.3 450.5h8.34M264.5 446.3v8.34M298.3 450.5h8.34M302.5 446.3v8.34M260.3 447.5h8.34M264.5 443.3v8.34M304.3 451.5h8.34M308.5 447.3v8.34M248.3 445.5h8.34M252.5 441.3v8.34M252.3 447.5h8.34M256.5 443.3v8.34M272.3 448.5h8.34M276.5 444.3v8.34M255.3 448.5h8.34M259.5 444.3v8.34M275.3 448.5h8.34M279.5 444.3v8.34M246.3 448.5h8.34M250.5 444.3v8.34M288.3 453.5h8.34M292.5 449.3v8.34M277.3 448.5h8.34M281.5 444.3v8.34M275.3 451.5h8.34M279.5 447.3v8.34M248.3 454.5h8.34M252.5 450.3v8.34M306.3 449.5h8.34M310.5 445.3v8.34M278.3 443.5h8.34M282.5 439.3v8.34M290.3 443.5h8.34M294.5 439.3v8.34M318.3 448.5h8.34M322.5 444.3v8.34M328.3 443.5h8.34M332.5 439.3v8.34M285.3 443.5h8.34M289.5 439.3v8.34M253.3 449.5h8.34M257.5 445.3v8.34M323.3 444.5h8.34M327.5 440.3v8.34M313.3 448.5h8.34M317.5 444.3v8.34M273.3 444.5h8.34M277.5 440.3v8.34M262.3 446.5h8.34M266.5 442.3v8.34M285.3 450.5h8.34M289.5 446.3v8.34M272.3 444.5h8.34M276.5 440.3v8.34M271.3 445.5h8.34M275.5 441.3v8.34M292.3 449.5h8.34M296.5 445.3v8.34M283.3 445.5h8.34M287.5 441.3v8.34M273.3 442.5h8.34M277.5 438.3v8.34M250.3 447.5h8.34M254.5 443.3v8.34M249.3 453.5h8.34M253.5 449.3v8.34M284.3 451.5h8.34M288.5 447.3v8.34M307.3 451.5h8.34M311.5 447.3v8.34M279.3 448.5h8.34M283.5 444.3v8.34M258.3 442.5h8.34M262.5 438.3v8.34M261.3 437.5h8.34M265.5 433.3v8.34M281.3 451.5h8.34M285.5 447.3v8.34M322.3 454.5h8.34M326.5 450.3v8.34M316.3 446.5h8.34M320.5 442.3v8.34M253.3 440.5h8.34M257.5 436.3v8.34M304.3 446.5h8.34M308.5 442.3v8.34M263.3 449.5h8.34M267.5 445.3v8.34M272.3 449.5h8.34M276.5 445.3v8.34M269.3 441.5h8.34M273.5 437.3v8.34M251.3 450.5h8.34M255.5 446.3v8.34M247.3 451.5h8.34M251.5 447.3v8.34M255.3 452.5h8.34M259.5 448.3v8.34M248.3 448.5h8.34M252.5 444.3v8.34M284.3 454.5h8.34M288.5 450.3v8.34M311.3 447.5h8.34M315.5 443.3v8.34M270.3 447.5h8.34M274.5 443.3v8.34M282.3 447.5h8.34M286.5 443.3v8.34M265.3 442.5h8.34M269.5 438.3v8.34M301.3 448.5h8.34M305.5 444.3v8.34M295.3 445.5h8.34M299.5 441.3v8.34M253.3 444.5h8.34M257.5 440.3v8.34M297.3 448.5h8.34M301.5 444.3v8.34M243.3 452.5h8.34M247.5 448.3v8.34M248.3 452.5h8.34M252.5 448.3v8.34M271.3 448.5h8.34M275.5 444.3v8.34M266.3 449.5h8.34M270.5 445.3v8.34M277.3 445.5h8.34M281.5 441.3v8.34M268.3 446.5h8.34M272.5 442.3v8.34M318.3 443.5h8.34M322.5 439.3v8.34M249.3 445.5h8.34M253.5 441.3v8.34M267.3 446.5h8.34M271.5 442.3v8.34M268.3 448.5h8.34M272.5 444.3v8.34M255.3 450.5h8.34M259.5 446.3v8.34M253.3 448.5h8.34M257.5 444.3v8.34M288.3 444.5h8.34M292.5 440.3v8.34M300.3 448.5h8.34M304.5 444.3v8.34M265.3 448.5h8.34M269.5 444.3v8.34M293.3 449.5h8.34M297.5 445.3v8.34M277.3 452.5h8.34M281.5 448.3v8.34M272.3 446.5h8.34M276.5 442.3v8.34M294.3 440.5h8.34M298.5 436.3v8.34M259.3 452.5h8.34M263.5 448.3v8.34M265.3 440.5h8.34M269.5 436.3v8.34M250.3 445.5h8.34M254.5 441.3v8.34M331.3 442.5h8.34M335.5 438.3v8.34M300.3 442.5h8.34M304.5 438.3v8.34M275.3 447.5h8.34M279.5 443.3v8.34M279.3 447.5h8.34M283.5 443.3v8.34M290.3 446.5h8.34M294.5 442.3v8.34M259.3 454.5h8.34M263.5 450.3v8.34M246.3 449.5h8.34M250.5 445.3v8.34M277.3 451.5h8.34M281.5 447.3v8.34M286.3 444.5h8.34M290.5 440.3v8.34M252.3 450.5h8.34M256.5 446.3v8.34M268.3 449.5h8.34M272.5 445.3v8.34M302.3 452.5h8.34M306.5 448.3v8.34M277.3 450.5h8.34M281.5 446.3v8.34M280.3 446.5h8.34M284.5 442.3v8.34M264.3 456.5h8.34M268.5 452.3v8.34M254.3 451.5h8.34M258.5 447.3v8.34M244.3 447.5h8.34M248.5 443.3v8.34M262.3 448.5h8.34M266.5 444.3v8.34M256.3 452.5h8.34M260.5 448.3v8.34M283.3 453.5h8.34M287.5 449.3v8.34M322.3 454.5h8.34M326.5 450.3v8.34M315.3 454.5h8.34M319.5 450.3v8.34M330.3 457.5h8.34M334.5 453.3v8.34M305.3 460.5h8.34M309.5 456.3v8.34M271.3 454.5h8.34M275.5 450.3v8.34M312.3 458.5h8.34M316.5 454.3v8.34M314.3 456.5h8.34M318.5 452.3v8.34M298.3 455.5h8.34M302.5 451.3v8.34M294.3 456.5h8.34M298.5 452.3v8.34M304.3 456.5h8.34M308.5 452.3v8.34M283.3 459.5h8.34M287.5 455.3v8.34M269.3 460.5h8.34M273.5 456.3v8.34M298.3 455.5h8.34M302.5 451.3v8.34M272.3 458.5h8.34M276.5 454.3v8.34M299.3 459.5h8.34M303.5 455.3v8.34M290.3 457.5h8.34M294.5 453.3v8.34M326.3 456.5h8.34M330.5 452.3v8.34M332.3 461.5h8.34M336.5 457.3v8.34M333.3 461.5h8.34M337.5 457.3v8.34M282.3 460.5h8.34M286.5 456.3v8.34M306.3 455.5h8.34M310.5 451.3v8.34M333.3 459.5h8.34M337.5 455.3v8.34M320.3 458.5h8.34M324.5 454.3v8.34M269.3 460.5h8.34M273.5 456.3v8.34M276.3 456.5h8.34M280.5 452.3v8.34M307.3 455.5h8.34M311.5 451.3v8.34M296.3 459.5h8.34M300.5 455.3v8.34M270.3 459.5h8.34M274.5 455.3v8.34M271.3 457.5h8.34M275.5 453.3v8.34M309.3 459.5h8.34M313.5 455.3v8.34M263.3 267.5h8.34M267.5 263.3v8.34M300.3 281.5h8.34M304.5 277.3v8.34M278.3 280.5h8.34M282.5 276.3v8.34M289.3 306.5h8.34M293.5 302.3v8.34M288.3 282.5h8.34M292.5 278.3v8.34M284.3 290.5h8.34M288.5 286.3v8.34M269.3 321.5h8.34M273.5 317.3v8.34M300.3 309.5h8.34M304.5 305.3v8.34M301.3 287.5h8.34M305.5 283.3v8.34M295.3 271.5h8.34M299.5 267.3v8.34M291.3 304.5h8.34M295.5 300.3v8.34M299.3 313.5h8.34M303.5 309.3v8.34M297.3 273.5h8.34M301.5 269.3v8.34M293.3 287.5h8.34M297.5 283.3v8.34M274.3 280.5h8.34M278.5 276.3v8.34M293.3 313.5h8.34M297.5 309.3v8.34M295.3 301.5h8.34M299.5 297.3v8.34M268.3 265.5h8.34M272.5 261.3v8.34M284.3 269.5h8.34M288.5 265.3v8.34M275.3 261.5h8.34M279.5 257.3v8.34M268.3 304.5h8.34M272.5 300.3v8.34M270.3 314.5h8.34M274.5 310.3v8.34M316.3 449.5h8.34M320.5 445.3v8.34M312.3 443.5h8.34M316.5 439.3v8.34M320.3 451.5h8.34M324.5 447.3v8.34M319.3 447.5h8.34M323.5 443.3v8.34M296.3 449.5h8.34M300.5 445.3v8.34M296.3 443.5h8.34M300.5 439.3v8.34M355.3 447.5h8.34M359.5 443.3v8.34M297.3 450.5h8.34M301.5 446.3v8.34M302.3 445.5h8.34M306.5 441.3v8.34M327.3 441.5h8.34M331.5 437.3v8.34M311.3 444.5h8.34M315.5 440.3v8.34M319.3 458.5h8.34M323.5 454.3v8.34M357.3 448.5h8.34M361.5 444.3v8.34M348.3 445.5h8.34M352.5 441.3v8.34M297.3 445.5h8.34M301.5 441.3v8.34M339.3 439.5h8.34M343.5 435.3v8.34M330.3 448.5h8.34M334.5 444.3v8.34M329.3 444.5h8.34M333.5 440.3v8.34M312.3 444.5h8.34M316.5 440.3v8.34M339.3 448.5h8.34M343.5 444.3v8.34M331.3 448.5h8.34M335.5 444.3v8.34M333.3 440.5h8.34M337.5 436.3v8.34" stroke="#00bfbf" stroke-width="0.72" fill="none"/>
<path d="M208.3 260.2l8.34 8.34M208.3 268.5l8.34 -8.34M232.1 257.1l8.34 8.34M232.1 265.4l8.34 -8.34M239.3 256.5l8.34 8.34M239.3 264.8l8.34 -8.34M231.5 287.1l8.34 8.34M231.5 295.4l8.34 -8.34M235.2 288.1l8.34 8.34M235.2 296.4l8.34 -8.34M237.7 289.6l8.34 8.34M237.7 297.9l8.34 -8.34M220.2 301.1l8.34 8.34M220.2 309.4l8.34 -8.34M210.2 310.8l8.34 8.34M210.2 319.2l8.34 -8.34M209.0 317.7l8.34 8.34M209.0 326.0l8.34 -8.34M216.5 317.7l8.34 8.34M216.5 326.0l8.34 -8.34M240.2 320.8l8.34 8.34M240.2 329.2l8.34 -8.34M241.5 330.2l8.34 8.34M241.5 338.5l8.34 -8.34M235.8 332.1l8.34 8.34M235.8 340.4l8.34 -8.34M224.0 333.3l8.34 8.34M224.0 341.7l8.34 -8.34M226.5 339.0l8.34 8.34M226.5 347.3l8.34 -8.34M229.3 351.1l8.34 8.34M229.3 359.4l8.34 -8.34M204.3 362.1l8.34 8.34M204.3 370.4l8.34 -8.34M220.2 370.8l8.34 8.34M220.2 379.2l8.34 -8.34M221.5 372.1l8.34 8.34M221.5 380.4l8.34 -8.34M225.2 377.1l8.34 8.34M225.2 385.4l8.34 -8.34M240.2 391.1l8.34 8.34M240.2 399.4l8.34 -8.34M241.5 406.5l8.34 8.34M241.5 414.8l8.34 -8.34M227.3 422.3l8.34 8.34M227.3 430.7l8.34 -8.34M207.3 436.1l8.34 8.34M207.3 444.4l8.34 -8.34M227.1 436.1l8.34 8.34M227.1 444.4l8.34 -8.34M237.1 436.1l8.34 8.34M237.1 444.4l8.34 -8.34" stroke="#0000ff" stroke-width="1" fill="none"/>
<circle cx="228.3" cy="447.3" r="4.1" fill="#bf00bf" stroke="#000" stroke-width="0.9"/>
<circle cx="198.9" cy="449.4" r="4.1" fill="#bf00bf" stroke="#000" stroke-width="0.9"/>
<circle cx="240.5" cy="443.2" r="4.1" fill="#bf00bf" stroke="#000" stroke-width="0.9"/>
<circle cx="215.6" cy="448.8" r="4.1" fill="#bf00bf" stroke="#000" stroke-width="0.9"/>
<circle cx="235.1" cy="449.7" r="4.1" fill="#bf00bf" stroke="#000" stroke-width="0.9"/>
<circle cx="217.5" cy="445.4" r="4.1" fill="#bf00bf" stroke="#000" stroke-width="0.9"/>
<circle cx="235.9" cy="447.3" r="4.1" fill="#bf00bf" stroke="#000" stroke-width="0.9"/>
<circle cx="197.3" cy="449.3" r="4.1" fill="#bf00bf" stroke="#000" stroke-width="0.9"/>
<circle cx="235.6" cy="447.5" r="4.1" fill="#bf00bf" stroke="#000" stroke-width="0.9"/>
<circle cx="209.2" cy="448.4" r="4.1" fill="#bf00bf" stroke="#000" stroke-width="0.9"/>
<circle cx="203.2" cy="443.8" r="4.1" fill="#bf00bf" stroke="#000" stroke-width="0.9"/>
<circle cx="198.4" cy="444.3" r="4.1" fill="#bf00bf" stroke="#000" stroke-width="0.9"/>
<circle cx="244.7" cy="446.8" r="4.1" fill="#bf00bf" stroke="#000" stroke-width="0.9"/>
<circle cx="195.9" cy="448.9" r="4.1" fill="#bf00bf" stroke="#000" stroke-width="0.9"/>
<circle cx="226.3" cy="448.7" r="4.1" fill="#bf00bf" stroke="#000" stroke-width="0.9"/>
<circle cx="197.5" cy="445.5" r="4.1" fill="#bf00bf" stroke="#000" stroke-width="0.9"/>
<circle cx="218.1" cy="447.1" r="4.1" fill="#bf00bf" stroke="#000" stroke-width="0.9"/>
<circle cx="215.8" cy="444.6" r="4.1" fill="#bf00bf" stroke="#000" stroke-width="0.9"/>
<circle cx="239.3" cy="445.9" r="4.1" fill="#bf00bf" stroke="#000" stroke-width="0.9"/>
<circle cx="242.6" cy="449.6" r="4.1" fill="#bf00bf" stroke="#000" stroke-width="0.9"/>
<circle cx="241.9" cy="447.7" r="4.1" fill="#bf00bf" stroke="#000" stroke-width="0.9"/>
<circle cx="238.4" cy="445.2" r="4.1" fill="#bf00bf" stroke="#000" stroke-width="0.9"/>
<circle cx="211.3" cy="446.5" r="4.1" fill="#bf00bf" stroke="#000" stroke-width="0.9"/>
<circle cx="222.8" cy="450.5" r="4.1" fill="#bf00bf" stroke="#000" stroke-width="0.9"/>
<circle cx="231.3" cy="446.0" r="4.1" fill="#bf00bf" stroke="#000" stroke-width="0.9"/>
<circle cx="229.9" cy="443.7" r="4.1" fill="#bf00bf" stroke="#000" stroke-width="0.9"/>
<circle cx="236.5" cy="448.4" r="4.1" fill="#bf00bf" stroke="#000" stroke-width="0.9"/>
<circle cx="213.9" cy="447.4" r="4.1" fill="#bf00bf" stroke="#000" stroke-width="0.9"/>
<circle cx="214.5" cy="442.5" r="4.1" fill="#bf00bf" stroke="#000" stroke-width="0.9"/>
<circle cx="236.3" cy="447.2" r="4.1" fill="#bf00bf" stroke="#000" stroke-width="0.9"/>
<circle cx="210.3" cy="447.6" r="4.1" fill="#bf00bf" stroke="#000" stroke-width="0.9"/>
<circle cx="205.6" cy="446.5" r="4.1" fill="#bf00bf" stroke="#000" stroke-width="0.9"/>
<circle cx="232.7" cy="447.7" r="4.1" fill="#bf00bf" stroke="#000" stroke-width="0.9"/>
<circle cx="230.8" cy="446.5" r="4.1" fill="#bf00bf" stroke="#000" stroke-width="0.9"/>
<circle cx="227.0" cy="445.6" r="4.1" fill="#bf00bf" stroke="#000" stroke-width="0.9"/>
<circle cx="204.7" cy="443.7" r="4.1" fill="#bf00bf" stroke="#000" stroke-width="0.9"/>
<circle cx="241.3" cy="449.2" r="4.1" fill="#bf00bf" stroke="#000" stroke-width="0.9"/>
<circle cx="238.7" cy="448.1" r="4.1" fill="#bf00bf" stroke="#000" stroke-width="0.9"/>
<circle cx="229.2" cy="448.4" r="4.1" fill="#bf00bf" stroke="#000" stroke-width="0.9"/>
<circle cx="242.8" cy="447.7" r="4.1" fill="#bf00bf" stroke="#000" stroke-width="0.9"/>
<circle cx="191.9" cy="447.4" r="4.1" fill="#bf00bf" stroke="#000" stroke-width="0.9"/>
<circle cx="245.0" cy="449.8" r="4.1" fill="#bf00bf" stroke="#000" stroke-width="0.9"/>
<circle cx="222.9" cy="445.1" r="4.1" fill="#bf00bf" stroke="#000" stroke-width="0.9"/>
<circle cx="229.1" cy="447.0" r="4.1" fill="#bf00bf" stroke="#000" stroke-width="0.9"/>
<circle cx="235.3" cy="446.2" r="4.1" fill="#bf00bf" stroke="#000" stroke-width="0.9"/>
<circle cx="209.2" cy="445.7" r="4.1" fill="#bf00bf" stroke="#000" stroke-width="0.9"/>
<circle cx="199.0" cy="443.4" r="4.1" fill="#bf00bf" stroke="#000" stroke-width="0.9"/>
<circle cx="227.2" cy="443.3" r="4.1" fill="#bf00bf" stroke="#000" stroke-width="0.9"/>
<circle cx="237.1" cy="443.6" r="4.1" fill="#bf00bf" stroke="#000" stroke-width="0.9"/>
<circle cx="196.7" cy="444.2" r="4.1" fill="#bf00bf" stroke="#000" stroke-width="0.9"/>
<circle cx="218.1" cy="449.0" r="4.1" fill="#bf00bf" stroke="#000" stroke-width="0.9"/>
<circle cx="200.5" cy="447.5" r="4.1" fill="#bf00bf" stroke="#000" stroke-width="0.9"/>
<circle cx="232.5" cy="448.3" r="4.1" fill="#bf00bf" stroke="#000" stroke-width="0.9"/>
<circle cx="237.9" cy="444.3" r="4.1" fill="#bf00bf" stroke="#000" stroke-width="0.9"/>
<circle cx="241.0" cy="447.6" r="4.1" fill="#bf00bf" stroke="#000" stroke-width="0.9"/>
<circle cx="192.8" cy="449.5" r="4.1" fill="#bf00bf" stroke="#000" stroke-width="0.9"/>
<circle cx="241.0" cy="443.1" r="4.1" fill="#bf00bf" stroke="#000" stroke-width="0.9"/>
<circle cx="244.4" cy="449.3" r="4.1" fill="#bf00bf" stroke="#000" stroke-width="0.9"/>
<circle cx="197.0" cy="445.8" r="4.1" fill="#bf00bf" stroke="#000" stroke-width="0.9"/>
<circle cx="220.0" cy="448.3" r="4.1" fill="#bf00bf" stroke="#000" stroke-width="0.9"/>
<circle cx="244.3" cy="445.2" r="4.1" fill="#bf00bf" stroke="#000" stroke-width="0.9"/>
<circle cx="233.4" cy="448.4" r="4.1" fill="#bf00bf" stroke="#000" stroke-width="0.9"/>
<circle cx="201.0" cy="441.7" r="4.1" fill="#bf00bf" stroke="#000" stroke-width="0.9"/>
<circle cx="226.4" cy="447.6" r="4.1" fill="#bf00bf" stroke="#000" stroke-width="0.9"/>
<circle cx="198.3" cy="443.7" r="4.1" fill="#bf00bf" stroke="#000" stroke-width="0.9"/>
<circle cx="209.0" cy="448.3" r="4.1" fill="#bf00bf" stroke="#000" stroke-width="0.9"/>
<circle cx="244.7" cy="444.9" r="4.1" fill="#bf00bf" stroke="#000" stroke-width="0.9"/>
<circle cx="237.9" cy="445.9" r="4.1" fill="#bf00bf" stroke="#000" stroke-width="0.9"/>
<circle cx="210.5" cy="445.2" r="4.1" fill="#bf00bf" stroke="#000" stroke-width="0.9"/>
<circle cx="203.9" cy="448.0" r="4.1" fill="#bf00bf" stroke="#000" stroke-width="0.9"/>
<circle cx="242.3" cy="444.3" r="4.1" fill="#bf00bf" stroke="#000" stroke-width="0.9"/>
<circle cx="213.7" cy="445.1" r="4.1" fill="#bf00bf" stroke="#000" stroke-width="0.9"/>
<circle cx="244.0" cy="446.0" r="4.1" fill="#bf00bf" stroke="#000" stroke-width="0.9"/>
<circle cx="225.7" cy="448.6" r="4.1" fill="#bf00bf" stroke="#000" stroke-width="0.9"/>
<circle cx="213.0" cy="448.5" r="4.1" fill="#bf00bf" stroke="#000" stroke-width="0.9"/>
<circle cx="222.1" cy="449.3" r="4.1" fill="#bf00bf" stroke="#000" stroke-width="0.9"/>
<circle cx="195.5" cy="444.8" r="4.1" fill="#bf00bf" stroke="#000" stroke-width="0.9"/>
<circle cx="196.3" cy="445.9" r="4.1" fill="#bf00bf" stroke="#000" stroke-width="0.9"/>
<circle cx="209.5" cy="448.5" r="4.1" fill="#bf00bf" stroke="#000" stroke-width="0.9"/>
<circle cx="232.3" cy="450.3" r="4.1" fill="#bf00bf" stroke="#000" stroke-width="0.9"/>
<circle cx="208.6" cy="442.2" r="4.1" fill="#bf00bf" stroke="#000" stroke-width="0.9"/>
<circle cx="198.6" cy="450.0" r="4.1" fill="#bf00bf" stroke="#000" stroke-width="0.9"/>
<circle cx="218.9" cy="450.0" r="4.1" fill="#bf00bf" stroke="#000" stroke-width="0.9"/>
<circle cx="214.4" cy="447.5" r="4.1" fill="#bf00bf" stroke="#000" stroke-width="0.9"/>
<circle cx="219.4" cy="449.1" r="4.1" fill="#bf00bf" stroke="#000" stroke-width="0.9"/>
<circle cx="207.4" cy="445.7" r="4.1" fill="#bf00bf" stroke="#000" stroke-width="0.9"/>
<circle cx="235.9" cy="450.1" r="4.1" fill="#bf00bf" stroke="#000" stroke-width="0.9"/>
<circle cx="205.0" cy="448.4" r="4.1" fill="#bf00bf" stroke="#000" stroke-width="0.9"/>
<circle cx="197.3" cy="447.9" r="4.1" fill="#bf00bf" stroke="#000" stroke-width="0.9"/>
<circle cx="218.0" cy="449.1" r="4.1" fill="#bf00bf" stroke="#000" stroke-width="0.9"/>
<circle cx="232.4" cy="449.4" r="4.1" fill="#bf00bf" stroke="#000" stroke-width="0.9"/>
<circle cx="233.1" cy="447.1" r="4.1" fill="#bf00bf" stroke="#000" stroke-width="0.9"/>
<circle cx="241.4" cy="448.5" r="4.1" fill="#bf00bf" stroke="#000" stroke-width="0.9"/>
<circle cx="218.6" cy="443.8" r="4.1" fill="#bf00bf" stroke="#000" stroke-width="0.9"/>
<circle cx="232.7" cy="445.7" r="4.1" fill="#bf00bf" stroke="#000" stroke-width="0.9"/>
<circle cx="216.8" cy="445.2" r="4.1" fill="#bf00bf" stroke="#000" stroke-width="0.9"/>
<circle cx="239.4" cy="445.4" r="4.1" fill="#bf00bf" stroke="#000" stroke-width="0.9"/>
<circle cx="233.0" cy="445.0" r="4.1" fill="#bf00bf" stroke="#000" stroke-width="0.9"/>
<circle cx="241.3" cy="444.9" r="4.1" fill="#bf00bf" stroke="#000" stroke-width="0.9"/>
<circle cx="208.5" cy="448.0" r="4.1" fill="#bf00bf" stroke="#000" stroke-width="0.9"/>
<circle cx="192.5" cy="449.3" r="4.1" fill="#bf00bf" stroke="#000" stroke-width="0.9"/>
<circle cx="219.3" cy="445.7" r="4.1" fill="#bf00bf" stroke="#000" stroke-width="0.9"/>
<circle cx="211.8" cy="445.2" r="4.1" fill="#bf00bf" stroke="#000" stroke-width="0.9"/>
<circle cx="195.7" cy="443.8" r="4.1" fill="#bf00bf" stroke="#000" stroke-width="0.9"/>
<circle cx="238.6" cy="450.3" r="4.1" fill="#bf00bf" stroke="#000" stroke-width="0.9"/>
<circle cx="215.6" cy="445.0" r="4.1" fill="#bf00bf" stroke="#000" stroke-width="0.9"/>
<circle cx="212.3" cy="449.6" r="4.1" fill="#bf00bf" stroke="#000" stroke-width="0.9"/>
<circle cx="196.8" cy="450.3" r="4.1" fill="#bf00bf" stroke="#000" stroke-width="0.9"/>
<circle cx="229.4" cy="447.1" r="4.1" fill="#bf00bf" stroke="#000" stroke-width="0.9"/>
<circle cx="212.0" cy="449.4" r="4.1" fill="#bf00bf" stroke="#000" stroke-width="0.9"/>
<circle cx="224.9" cy="450.3" r="4.1" fill="#bf00bf" stroke="#000" stroke-width="0.9"/>
<circle cx="222.1" cy="449.5" r="4.1" fill="#bf00bf" stroke="#000" stroke-width="0.9"/>
<circle cx="198.3" cy="447.6" r="4.1" fill="#bf00bf" stroke="#000" stroke-width="0.9"/>
<circle cx="240.6" cy="448.5" r="4.1" fill="#bf00bf" stroke="#000" stroke-width="0.9"/>
<circle cx="205.2" cy="448.5" r="4.1" fill="#bf00bf" stroke="#000" stroke-width="0.9"/>
<circle cx="193.5" cy="445.5" r="4.1" fill="#bf00bf" stroke="#000" stroke-width="0.9"/>
<circle cx="229.5" cy="447.1" r="4.1" fill="#bf00bf" stroke="#000" stroke-width="0.9"/>
<circle cx="200.2" cy="445.1" r="4.1" fill="#bf00bf" stroke="#000" stroke-width="0.9"/>
<circle cx="204.5" cy="449.1" r="4.1" fill="#bf00bf" stroke="#000" stroke-width="0.9"/>
<circle cx="211.8" cy="443.5" r="4.1" fill="#bf00bf" stroke="#000" stroke-width="0.9"/>
<circle cx="226.3" cy="448.1" r="4.1" fill="#bf00bf" stroke="#000" stroke-width="0.9"/>
<circle cx="215.6" cy="447.6" r="4.1" fill="#bf00bf" stroke="#000" stroke-width="0.9"/>
<circle cx="209.7" cy="450.5" r="4.1" fill="#bf00bf" stroke="#000" stroke-width="0.9"/>
<circle cx="230.6" cy="447.0" r="4.1" fill="#bf00bf" stroke="#000" stroke-width="0.9"/>
<circle cx="203.4" cy="447.1" r="4.1" fill="#bf00bf" stroke="#000" stroke-width="0.9"/>
<circle cx="238.3" cy="446.9" r="4.1" fill="#bf00bf" stroke="#000" stroke-width="0.9"/>
<circle cx="201.1" cy="448.5" r="4.1" fill="#bf00bf" stroke="#000" stroke-width="0.9"/>
<circle cx="220.8" cy="449.1" r="4.1" fill="#bf00bf" stroke="#000" stroke-width="0.9"/>
<circle cx="243.7" cy="449.9" r="4.1" fill="#bf00bf" stroke="#000" stroke-width="0.9"/>
<circle cx="228.3" cy="447.4" r="4.1" fill="#bf00bf" stroke="#000" stroke-width="0.9"/>
<circle cx="209.4" cy="449.9" r="4.1" fill="#bf00bf" stroke="#000" stroke-width="0.9"/>
<circle cx="234.5" cy="448.3" r="4.1" fill="#bf00bf" stroke="#000" stroke-width="0.9"/>
<circle cx="229.0" cy="444.2" r="4.1" fill="#bf00bf" stroke="#000" stroke-width="0.9"/>
<circle cx="204.5" cy="449.4" r="4.1" fill="#bf00bf" stroke="#000" stroke-width="0.9"/>
<circle cx="216.4" cy="448.5" r="4.1" fill="#bf00bf" stroke="#000" stroke-width="0.9"/>
<circle cx="206.6" cy="447.2" r="4.1" fill="#bf00bf" stroke="#000" stroke-width="0.9"/>
<circle cx="225.5" cy="449.9" r="4.1" fill="#bf00bf" stroke="#000" stroke-width="0.9"/>
<circle cx="235.0" cy="449.6" r="4.1" fill="#bf00bf" stroke="#000" stroke-width="0.9"/>
<circle cx="192.8" cy="448.8" r="4.1" fill="#bf00bf" stroke="#000" stroke-width="0.9"/>
<circle cx="243.3" cy="446.3" r="4.1" fill="#bf00bf" stroke="#000" stroke-width="0.9"/>
<circle cx="238.8" cy="446.2" r="4.1" fill="#bf00bf" stroke="#000" stroke-width="0.9"/>
<circle cx="241.0" cy="444.3" r="4.1" fill="#bf00bf" stroke="#000" stroke-width="0.9"/>
<circle cx="220.2" cy="444.0" r="4.1" fill="#bf00bf" stroke="#000" stroke-width="0.9"/>
<circle cx="222.6" cy="443.3" r="4.1" fill="#bf00bf" stroke="#000" stroke-width="0.9"/>
<circle cx="223.4" cy="442.2" r="4.1" fill="#bf00bf" stroke="#000" stroke-width="0.9"/>
<circle cx="234.0" cy="450.4" r="4.1" fill="#bf00bf" stroke="#000" stroke-width="0.9"/>
<circle cx="225.1" cy="448.8" r="4.1" fill="#bf00bf" stroke="#000" stroke-width="0.9"/>
<circle cx="213.8" cy="447.1" r="4.1" fill="#bf00bf" stroke="#000" stroke-width="0.9"/>
<circle cx="241.4" cy="450.3" r="4.1" fill="#bf00bf" stroke="#000" stroke-width="0.9"/>
<circle cx="225.6" cy="447.5" r="4.1" fill="#bf00bf" stroke="#000" stroke-width="0.9"/>
<circle cx="242.5" cy="446.9" r="4.1" fill="#bf00bf" stroke="#000" stroke-width="0.9"/>
<circle cx="198.0" cy="448.3" r="4.1" fill="#bf00bf" stroke="#000" stroke-width="0.9"/>
<circle cx="218.1" cy="449.3" r="4.1" fill="#bf00bf" stroke="#000" stroke-width="0.9"/>
<circle cx="244.8" cy="450.4" r="4.1" fill="#bf00bf" stroke="#000" stroke-width="0.9"/>
<circle cx="231.3" cy="443.1" r="4.1" fill="#bf00bf" stroke="#000" stroke-width="0.9"/>
<circle cx="202.3" cy="443.6" r="4.1" fill="#bf00bf" stroke="#000" stroke-width="0.9"/>
<circle cx="212.2" cy="443.5" r="4.1" fill="#bf00bf" stroke="#000" stroke-width="0.9"/>
<circle cx="197.7" cy="448.3" r="4.1" fill="#bf00bf" stroke="#000" stroke-width="0.9"/>
<circle cx="198.6" cy="445.3" r="4.1" fill="#bf00bf" stroke="#000" stroke-width="0.9"/>
<path d="M100.5 449.30H382.5" stroke="#00f" stroke-width="1.39" stroke-dasharray="8.33 8.33" fill="none"/>
<path d="M100.5 447.50H382.5" stroke="#f00" stroke-width="1.39" stroke-dasharray="8.33 8.33" fill="none"/>
<path d="M100.5 441.50H382.5" stroke="#00f" stroke-width="1.39" stroke-dasharray="4.17 6.94 1.39 6.94" fill="none"/>
<path d="M100.5 452.50H382.5" stroke="#00f" stroke-width="1.39" stroke-dasharray="4.17 6.94 1.39 6.94" fill="none"/>
</g>
<rect x="100.5" y="60.5" width="282.0" height="480.0" stroke="#000" stroke-width="1.3" fill="none"/>
<path d="M100.5 540.5v-6.2M138.5 540.5v-6.2M175.5 540.5v-6.2M213.5 540.5v-6.2M250.5 540.5v-6.2M288.5 540.5v-6.2M326.5 540.5v-6.2M363.5 540.5v-6.2M116.5 60.5v6.2M153.5 60.5v6.2M191.5 60.5v6.2M229.5 60.5v6.2M266.5 60.5v6.2M304.5 60.5v6.2M341.5 60.5v6.2M379.5 60.5v6.2M100.5 540.5h6.2M382.5 540.5h-6.2M100.5 420.5h6.2M382.5 420.5h-6.2M100.5 300.5h6.2M382.5 300.5h-6.2M100.5 180.5h6.2M382.5 180.5h-6.2M100.5 60.5h6.2M382.5 60.5h-6.2" stroke="#000" stroke-width="0.7" fill="none"/>
<g font-family="'DejaVu Sans','Liberation Sans',sans-serif" fill="#000">
<text transform="translate(100.0,559.5) scale(1,1.045)" text-anchor="middle" font-size="16.67" letter-spacing="-0.8">−20</text>
<text transform="translate(137.6,559.5) scale(1,1.045)" text-anchor="middle" font-size="16.67" letter-spacing="-0.8">−18</text>
<text transform="translate(175.2,559.5) scale(1,1.045)" text-anchor="middle" font-size="16.67" letter-spacing="-0.8">−16</text>
<text transform="translate(212.8,559.5) scale(1,1.045)" text-anchor="middle" font-size="16.67" letter-spacing="-0.8">−14</text>
<text transform="translate(250.4,559.5) scale(1,1.045)" text-anchor="middle" font-size="16.67" letter-spacing="-0.8">−12</text>
<text transform="translate(288.0,559.5) scale(1,1.045)" text-anchor="middle" font-size="16.67" letter-spacing="-0.8">−10</text>
<text transform="translate(325.6,559.5) scale(1,1.045)" text-anchor="middle" font-size="16.67" letter-spacing="-0.8">−8</text>
<text transform="translate(363.2,559.5) scale(1,1.045)" text-anchor="middle" font-size="16.67" letter-spacing="-0.8">−6</text>
<text transform="translate(115.7,49.9) scale(1,1.045)" text-anchor="middle" font-size="16.67" letter-spacing="-0.8">14</text>
<text transform="translate(153.3,49.9) scale(1,1.045)" text-anchor="middle" font-size="16.67" letter-spacing="-0.8">16</text>
<text transform="translate(190.9,49.9) scale(1,1.045)" text-anchor="middle" font-size="16.67" letter-spacing="-0.8">18</text>
<text transform="translate(228.5,49.9) scale(1,1.045)" text-anchor="middle" font-size="16.67" letter-spacing="-0.8">20</text>
<text transform="translate(266.1,49.9) scale(1,1.045)" text-anchor="middle" font-size="16.67" letter-spacing="-0.8">22</text>
<text transform="translate(303.7,49.9) scale(1,1.045)" text-anchor="middle" font-size="16.67" letter-spacing="-0.8">24</text>
<text transform="translate(341.3,49.9) scale(1,1.045)" text-anchor="middle" font-size="16.67" letter-spacing="-0.8">26</text>
<text transform="translate(378.9,49.9) scale(1,1.045)" text-anchor="middle" font-size="16.67" letter-spacing="-0.8">28</text>
<text transform="translate(94.7,544.8) scale(1,1.045)" text-anchor="end" font-size="16.67" letter-spacing="-0.8">0</text>
<text transform="translate(94.7,424.8) scale(1,1.045)" text-anchor="end" font-size="16.67" letter-spacing="-0.8">5</text>
<text transform="translate(94.7,304.8) scale(1,1.045)" text-anchor="end" font-size="16.67" letter-spacing="-0.8">10</text>
<text transform="translate(94.7,184.8) scale(1,1.045)" text-anchor="end" font-size="16.67" letter-spacing="-0.8">15</text>
<text transform="translate(94.7,64.8) scale(1,1.045)" text-anchor="end" font-size="16.67" letter-spacing="-0.8">20</text>
<text x="227.3" y="29" text-anchor="middle" font-size="20">FWHM vs magnitudes</text>
<text transform="translate(241.8,582.5) scale(1,1.045)" text-anchor="middle" font-size="16.67">magnitude (bottom:isnt / top:calib)</text>
<text transform="translate(63.8,300) rotate(-90) scale(1,1.045)" text-anchor="middle" font-size="16.67">FWHM (pix)</text>
</g>
<rect x="438.5" y="268.5" width="223.0" height="64.0" fill="#0000ff" stroke="#000" stroke-width="1.3"/>
<rect x="438.5" y="204.5" width="141.0" height="64.0" fill="#0000ff" stroke="#000" stroke-width="1.3"/>
<rect x="438.5" y="140.5" width="10.0" height="64.0" fill="#0000ff" stroke="#000" stroke-width="1.3"/>
<path d="M438.5 302.5H706.4" stroke="#000" stroke-width="1.39" stroke-dasharray="8.33 8.33" fill="none"/>
<rect x="438.5" y="60.5" width="282.0" height="480.0" stroke="#000" stroke-width="1.3" fill="none"/>
<path d="M438.5 540.5v-6.2M438.5 60.5v6.2M485.5 540.5v-6.2M485.5 60.5v6.2M532.5 540.5v-6.2M532.5 60.5v6.2M579.5 540.5v-6.2M579.5 60.5v6.2M626.5 540.5v-6.2M626.5 60.5v6.2M673.5 540.5v-6.2M673.5 60.5v6.2M720.5 540.5v-6.2M720.5 60.5v6.2M438.5 540.5h6.2M720.5 540.5h-6.2M438.5 480.5h6.2M720.5 480.5h-6.2M438.5 420.5h6.2M720.5 420.5h-6.2M438.5 360.5h6.2M720.5 360.5h-6.2M438.5 300.5h6.2M720.5 300.5h-6.2M438.5 240.5h6.2M720.5 240.5h-6.2M438.5 180.5h6.2M720.5 180.5h-6.2M438.5 120.5h6.2M720.5 120.5h-6.2M438.5 60.5h6.2M720.5 60.5h-6.2" stroke="#000" stroke-width="0.7" fill="none"/>
<g font-family="'DejaVu Sans','Liberation Sans',sans-serif" fill="#000">
<text transform="translate(438.5,559.5) scale(1,1.045)" text-anchor="middle" font-size="16.67" letter-spacing="-0.8">0</text>
<text transform="translate(485.5,559.5) scale(1,1.045)" text-anchor="middle" font-size="16.67" letter-spacing="-0.8">20</text>
<text transform="translate(532.5,559.5) scale(1,1.045)" text-anchor="middle" font-size="16.67" letter-spacing="-0.8">40</text>
<text transform="translate(579.5,559.5) scale(1,1.045)" text-anchor="middle" font-size="16.67" letter-spacing="-0.8">60</text>
<text transform="translate(626.5,559.5) scale(1,1.045)" text-anchor="middle" font-size="16.67" letter-spacing="-0.8">80</text>
<text transform="translate(673.5,559.5) scale(1,1.045)" text-anchor="middle" font-size="16.67" letter-spacing="-0.8">100</text>
<text transform="translate(720.5,559.5) scale(1,1.045)" text-anchor="middle" font-size="16.67" letter-spacing="-0.8">120</text>
<text transform="translate(432.8,544.8) scale(1,1.045)" text-anchor="end" font-size="16.67" letter-spacing="-0.8">3.0</text>
<text transform="translate(432.8,484.8) scale(1,1.045)" text-anchor="end" font-size="16.67" letter-spacing="-0.8">3.2</text>
<text transform="translate(432.8,424.8) scale(1,1.045)" text-anchor="end" font-size="16.67" letter-spacing="-0.8">3.4</text>
<text transform="translate(432.8,364.8) scale(1,1.045)" text-anchor="end" font-size="16.67" letter-spacing="-0.8">3.6</text>
<text transform="translate(432.8,304.8) scale(1,1.045)" text-anchor="end" font-size="16.67" letter-spacing="-0.8">3.8</text>
<text transform="translate(432.8,244.8) scale(1,1.045)" text-anchor="end" font-size="16.67" letter-spacing="-0.8">4.0</text>
<text transform="translate(432.8,184.8) scale(1,1.045)" text-anchor="end" font-size="16.67" letter-spacing="-0.8">4.2</text>
<text transform="translate(432.8,124.8) scale(1,1.045)" text-anchor="end" font-size="16.67" letter-spacing="-0.8">4.4</text>
<text transform="translate(432.8,64.8) scale(1,1.045)" text-anchor="end" font-size="16.67" letter-spacing="-0.8">4.6</text>
<text x="579.8" y="53" text-anchor="middle" font-size="20">histogram of FWHM</text>
<text transform="translate(579.5,582.5) scale(1,1.045)" text-anchor="middle" font-size="16.67">number of sources</text>
<text transform="translate(395.6,300) rotate(-90) scale(1,1.045)" text-anchor="middle" font-size="16.67">FWHM of best-effort PSF-like sources</text>
</g>
<rect x="27.5" y="70.5" width="345.0" height="180.0" fill="#fff" stroke="#000" stroke-width="1.3"/>
<path d="M37.3 86.6h8.34M41.5 82.4v8.34M65.3 86.6h8.34M69.5 82.4v8.34" stroke="#00bfbf" stroke-width="0.72" fill="none"/>
<path d="M37.3 111.4l8.34 8.34M37.3 119.7l8.34 -8.34M65.3 111.4l8.34 8.34M65.3 119.7l8.34 -8.34" stroke="#0000ff" stroke-width="1" fill="none"/>
<circle cx="41.5" cy="144.5" r="4.1" fill="#bf00bf" stroke="#000" stroke-width="0.7"/>
<circle cx="69.5" cy="144.5" r="4.1" fill="#bf00bf" stroke="#000" stroke-width="0.7"/>
<path d="M41.5 173.5H69.5" stroke="#00f" stroke-width="1.39" stroke-dasharray="8.33 8.33" fill="none"/>
<path d="M41.5 202.5H69.5" stroke="#f00" stroke-width="1.39" stroke-dasharray="8.33 8.33" fill="none"/>
<path d="M41.5 231.4H69.5" stroke="#00f" stroke-width="1.39" stroke-dasharray="4.17 6.94 1.39 6.94" fill="none"/>
<g font-family="'DejaVu Sans','Liberation Sans',sans-serif" fill="#000" font-size="20">
<text x="91.1" y="93.3">all sample</text>
<text x="91.1" y="122.2">sample for rough FWHM</text>
<text x="91.1" y="151.2">best-effort PSF-like sample</text>
<text x="91.1" y="180.1">resultant FWHM: 3.79</text>
<text x="91.1" y="209.0">median FHWM of sequence</text>
<text x="91.1" y="237.9">sigma range</text>
</g>
</svg>
</body></html>
